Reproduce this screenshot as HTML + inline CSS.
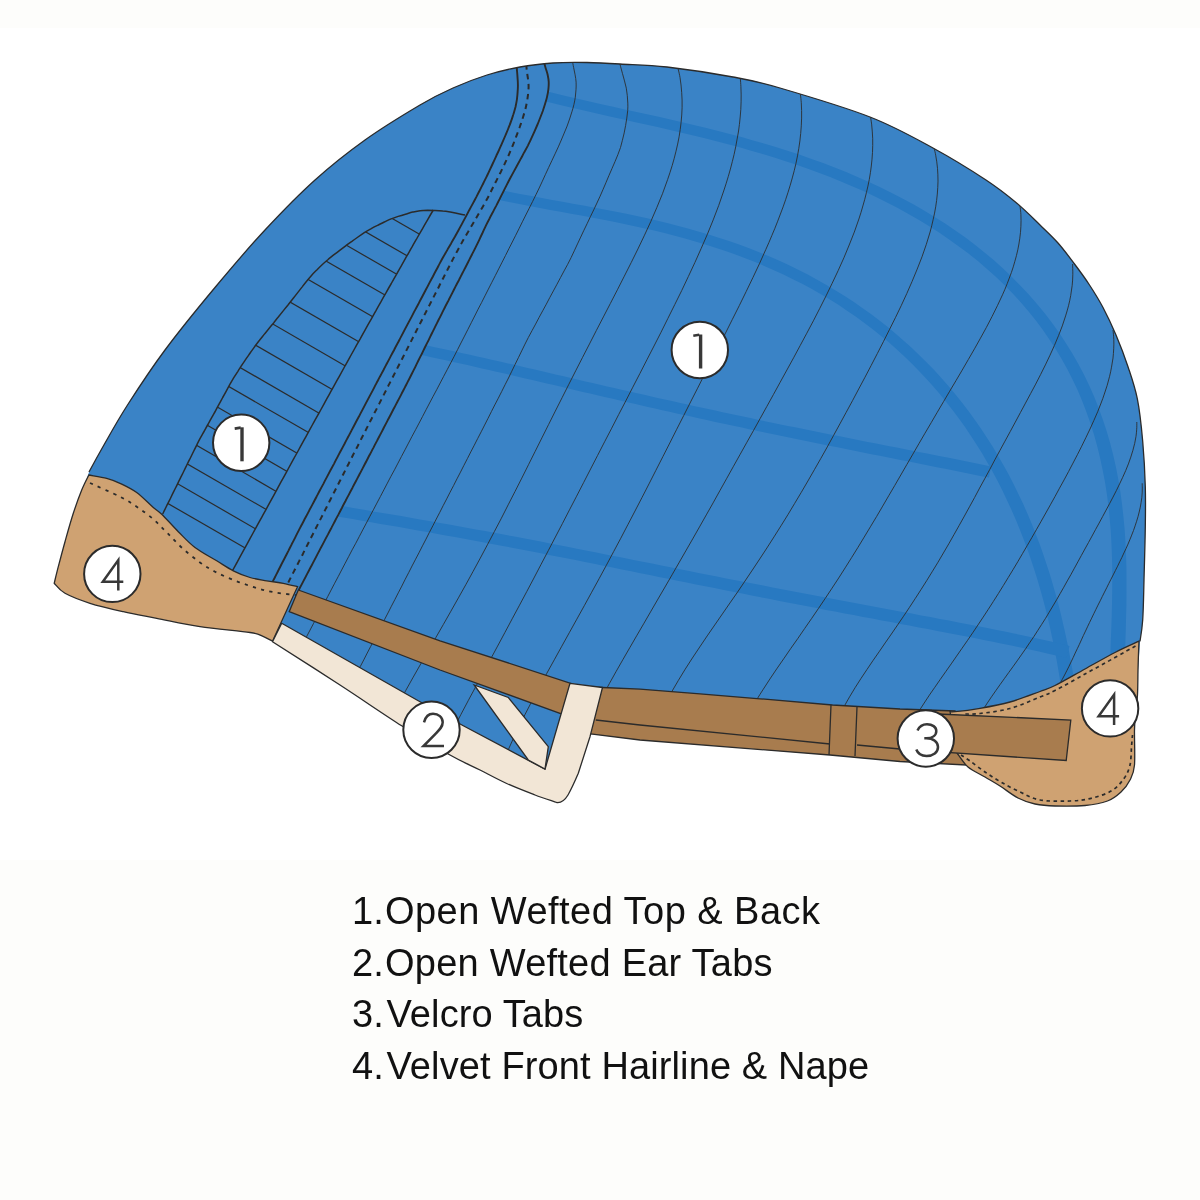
<!DOCTYPE html>
<html><head><meta charset="utf-8"><style>
html,body{margin:0;padding:0;background:#fdfdfb;}
#wrap{position:relative;width:1200px;height:1200px;overflow:hidden;background:#fdfdfb;}
.t{position:absolute;font-family:"Liberation Sans",sans-serif;font-size:38px;color:#111;white-space:nowrap;line-height:1;-webkit-font-smoothing:antialiased;transform:translateZ(0);}
</style></head><body><div id="wrap">
<svg width="1200" height="1200" viewBox="0 0 1200 1200" style="position:absolute;left:0;top:0">
<defs>
<clipPath id="capclip"><path d="M89.0,472.0 C91.2,467.9 96.1,458.7 102.5,447.5 C108.9,436.3 117.1,421.2 127.5,405.0 C137.9,388.8 150.4,369.6 165.0,350.0 C179.6,330.4 198.3,307.5 215.0,287.5 C231.7,267.5 248.3,247.9 265.0,230.0 C281.7,212.1 298.3,195.0 315.0,180.0 C331.7,165.0 347.5,152.5 365.0,140.0 C382.5,127.5 405.3,113.7 420.0,105.0 C434.7,96.3 441.8,93.0 453.0,88.0 C464.2,83.0 475.8,78.5 487.0,75.0 C498.2,71.5 509.0,69.0 520.0,67.0 C531.0,65.0 541.8,63.8 553.0,63.0 C564.2,62.2 575.8,62.3 587.0,62.5 C598.2,62.7 606.7,63.2 620.0,64.0 C633.3,64.8 648.2,64.8 667.0,67.0 C685.8,69.2 714.2,73.5 733.0,77.0 C751.8,80.5 757.2,81.3 780.0,88.0 C802.8,94.7 844.5,107.0 870.0,117.0 C895.5,127.0 913.7,137.5 933.0,148.0 C952.3,158.5 972.2,170.9 986.0,180.0 C999.8,189.1 1007.0,195.0 1016.0,202.5 C1025.0,210.0 1033.0,218.2 1040.0,225.0 C1047.0,231.8 1052.2,236.5 1058.0,243.0 C1063.8,249.5 1069.2,257.0 1074.5,264.0 C1079.8,271.0 1084.8,277.8 1089.5,285.0 C1094.2,292.2 1098.6,299.2 1103.0,307.5 C1107.4,315.8 1111.8,325.1 1116.0,335.0 C1120.2,344.9 1124.5,356.1 1128.0,366.7 C1131.5,377.3 1134.8,386.3 1137.3,398.7 C1139.8,411.1 1141.4,426.6 1142.7,441.3 C1144.0,456.0 1144.9,472.5 1145.3,486.7 C1145.7,500.9 1145.5,511.2 1145.3,526.7 C1145.1,542.2 1144.4,564.5 1144.0,580.0 C1143.6,595.5 1143.4,609.8 1142.7,620.0 C1142.0,630.2 1140.5,637.8 1140.0,641.3 L1136,700 L955,718 L860,714 L600,695 L588,730 L552,788 L455,742 L410,714 L276,633 L54,584 Z"/></clipPath>
<clipPath id="mainclip"><path d="M543.3,40 L543.5,60.0 C543.8,61.2 544.7,64.9 545.4,67.3 C546.1,69.7 547.0,72.0 547.6,74.5 C548.1,76.9 548.6,79.3 548.7,81.7 C548.8,84.2 548.7,86.7 548.4,89.2 C548.1,91.7 547.7,94.2 547.1,96.6 C546.6,99.0 545.8,101.4 545.1,103.8 C544.4,106.2 543.6,108.6 542.8,111.0 C541.9,113.4 541.0,115.7 540.1,118.0 C539.2,120.4 538.3,122.7 537.3,125.0 C536.3,127.3 535.3,129.6 534.3,131.9 C533.3,134.2 532.2,136.5 531.1,138.8 C530.1,141.1 529.0,143.3 527.9,145.6 C526.7,147.8 525.5,150.0 524.3,152.2 C523.2,154.4 521.9,156.6 520.7,158.9 C519.5,161.1 518.3,163.3 517.1,165.5 C515.9,167.7 514.7,169.9 513.5,172.1 C512.3,174.3 511.1,176.5 509.9,178.7 C508.8,180.9 507.6,183.2 506.5,185.4 C505.3,187.7 504.2,189.9 503.1,192.1 C501.9,194.4 500.8,196.6 499.7,198.9 C498.6,201.1 497.4,203.4 496.3,205.6 C495.1,207.8 493.9,210.0 492.8,212.3 C491.6,214.5 490.4,216.7 489.3,219.0 C488.1,221.2 487.0,223.4 485.9,225.7 C484.8,228.0 483.7,230.2 482.7,232.5 C481.6,234.8 480.5,237.1 479.5,239.3 C478.4,241.6 477.3,243.9 476.2,246.1 C475.1,248.4 474.0,250.6 472.8,252.9 C471.7,255.1 470.5,257.3 469.4,259.6 C468.3,261.8 467.1,264.0 466.0,266.3 C464.8,268.5 463.7,270.8 462.5,273.0 C461.4,275.2 460.2,277.5 459.1,279.7 C457.9,281.9 456.8,284.2 455.6,286.4 C454.5,288.6 453.3,290.9 452.2,293.1 C451.0,295.4 449.9,297.6 448.8,299.8 C447.6,302.1 446.5,304.3 445.3,306.5 C444.2,308.8 443.0,311.0 441.9,313.3 C440.8,315.5 439.7,317.7 438.5,320.0 C437.4,322.2 436.3,324.5 435.2,326.7 C434.1,329.0 432.9,331.2 431.8,333.5 C430.7,335.8 429.6,338.0 428.5,340.3 C427.4,342.5 426.2,344.8 425.1,347.0 C424.0,349.3 422.9,351.5 421.8,353.8 C420.7,356.0 419.5,358.3 418.4,360.5 C417.3,362.8 416.2,365.0 415.1,367.3 C414.0,369.5 412.8,371.8 411.7,374.0 C410.6,376.3 409.5,378.5 408.3,380.7 C407.2,383.0 406.0,385.2 404.9,387.4 C403.7,389.7 402.5,391.9 401.4,394.1 C400.2,396.4 399.1,398.6 397.9,400.8 C396.7,403.0 395.6,405.3 394.4,407.5 C393.2,409.7 392.1,411.9 390.9,414.2 C389.8,416.4 388.6,418.6 387.4,420.9 C386.3,423.1 385.1,425.3 383.9,427.5 C382.8,429.8 381.6,432.0 380.5,434.2 C379.3,436.5 378.1,438.7 377.0,440.9 C375.8,443.1 374.6,445.4 373.5,447.6 C372.3,449.8 371.2,452.0 370.0,454.3 C368.8,456.5 367.7,458.7 366.5,461.0 C365.3,463.2 364.2,465.4 363.0,467.6 C361.8,469.9 360.7,472.1 359.5,474.3 C358.3,476.5 357.2,478.8 356.0,481.0 C354.8,483.2 353.6,485.4 352.5,487.7 C351.3,489.9 350.1,492.1 349.0,494.3 C347.8,496.6 346.6,498.8 345.5,501.0 C344.3,503.2 343.1,505.5 342.0,507.7 C340.8,509.9 339.6,512.1 338.5,514.4 C337.3,516.6 336.1,518.8 335.0,521.0 C333.8,523.3 332.6,525.5 331.5,527.7 C330.3,529.9 329.1,532.2 328.0,534.4 C326.8,536.6 325.6,538.8 324.4,541.1 C323.3,543.3 322.1,545.5 320.9,547.7 C319.8,550.0 318.6,552.2 317.4,554.4 C316.3,556.6 315.1,558.9 313.9,561.1 C312.8,563.3 311.6,565.5 310.4,567.8 C309.3,570.0 308.1,572.2 306.9,574.4 C305.8,576.7 304.6,578.9 303.4,581.1 C302.3,583.3 300.7,586.3 299.9,587.8 C299.1,589.3 298.9,589.6 298.8,590.0 L272,640 L260,800 L1200,800 L1200,40 Z"/></clipPath>
<clipPath id="earclip"><path d="M465.0,215.0 C463.8,214.7 460.1,213.9 457.6,213.4 C455.1,212.9 452.7,212.4 450.2,212.0 C447.7,211.6 445.2,211.2 442.7,211.0 C440.2,210.7 437.7,210.5 435.2,210.4 C432.7,210.3 430.1,210.3 427.6,210.3 C425.1,210.4 422.6,210.5 420.1,210.8 C417.6,211.1 415.2,211.6 412.7,212.1 C410.3,212.7 407.9,213.5 405.5,214.2 C403.0,214.9 400.6,215.6 398.2,216.4 C395.8,217.2 393.4,218.0 391.1,218.9 C388.8,219.9 386.5,221.0 384.3,222.0 C382.0,223.1 379.7,224.3 377.5,225.4 C375.2,226.5 373.0,227.6 370.8,228.9 C368.6,230.1 366.4,231.3 364.3,232.7 C362.1,234.1 360.1,235.5 358.0,237.0 C356.0,238.4 353.9,239.9 351.9,241.4 C349.8,242.8 347.8,244.3 345.7,245.8 C343.7,247.3 341.7,248.8 339.7,250.3 C337.7,251.9 335.7,253.4 333.7,254.9 C331.7,256.5 329.7,258.0 327.8,259.7 C325.9,261.3 324.0,262.9 322.1,264.7 C320.3,266.4 318.5,268.2 316.8,270.0 C315.0,271.8 313.2,273.5 311.5,275.4 C309.8,277.3 308.2,279.2 306.6,281.2 C305.0,283.1 303.5,285.1 302.0,287.1 C300.4,289.1 298.9,291.1 297.3,293.1 C295.8,295.1 294.2,297.1 292.7,299.0 C291.1,301.0 289.5,303.0 288.0,305.0 C286.4,306.9 284.8,308.9 283.2,310.9 C281.7,312.8 280.1,314.8 278.5,316.8 C276.9,318.7 275.4,320.7 273.8,322.7 C272.2,324.6 270.6,326.6 269.0,328.5 C267.4,330.5 265.8,332.4 264.2,334.4 C262.6,336.4 261.0,338.3 259.5,340.3 C257.9,342.3 256.4,344.3 254.9,346.3 C253.5,348.4 252.0,350.4 250.5,352.5 C249.1,354.6 247.6,356.6 246.2,358.7 C244.8,360.8 243.3,362.8 242.0,364.9 C240.6,367.1 239.2,369.2 237.9,371.3 C236.5,373.4 235.1,375.6 233.8,377.7 C232.5,379.9 231.3,382.0 230.0,384.2 C228.8,386.4 227.6,388.6 226.4,390.9 C225.2,393.1 224.0,395.3 222.7,397.5 C221.5,399.7 220.3,401.9 219.1,404.1 C217.9,406.3 216.7,408.6 215.5,410.8 C214.3,413.0 213.0,415.2 211.8,417.4 C210.6,419.6 209.4,421.8 208.2,424.0 C206.9,426.2 205.7,428.4 204.5,430.6 C203.3,432.8 202.0,435.0 200.8,437.2 C199.6,439.4 198.4,441.7 197.3,443.9 C196.2,446.2 195.0,448.4 193.9,450.7 C192.8,452.9 191.7,455.2 190.6,457.5 C189.5,459.7 188.3,462.0 187.2,464.3 C186.1,466.5 185.0,468.8 183.9,471.0 C182.8,473.3 181.6,475.6 180.5,477.8 C179.4,480.1 178.3,482.3 177.2,484.6 C176.1,486.9 174.9,489.1 173.8,491.4 C172.7,493.6 171.6,495.9 170.5,498.2 C169.4,500.4 168.3,502.7 167.1,504.9 C166.0,507.2 164.6,510.2 163.8,511.7 C163.1,513.2 162.9,513.6 162.7,514.0 L232.5,570.7 L237.6,561.4 L242.6,552.1 L247.7,542.8 L252.8,533.5 L257.9,524.2 L263.0,514.9 L268.1,505.7 L273.2,496.4 L278.2,487.1 L283.3,477.8 L288.4,468.5 L293.5,459.2 L298.6,450.0 L303.7,440.7 L308.8,431.4 L313.9,422.1 L319.1,412.9 L324.2,403.6 L329.3,394.3 L334.4,385.1 L339.6,375.8 L344.7,366.5 L349.8,357.3 L355.0,348.0 L360.2,338.8 L365.3,329.6 L370.5,320.3 L375.7,311.1 L380.9,301.9 L386.1,292.7 L391.3,283.5 L396.5,274.3 L401.7,265.1 L406.9,255.9 L412.2,246.7 L417.4,237.5 L422.7,228.3 L428.0,219.1 L433.3,210.0Z"/></clipPath>
</defs>
<rect width="1200" height="1200" fill="#fdfdfb"/>
<rect y="28" width="1200" height="832" fill="#ffffff"/>
<path d="M89.0,472.0 C91.2,467.9 96.1,458.7 102.5,447.5 C108.9,436.3 117.1,421.2 127.5,405.0 C137.9,388.8 150.4,369.6 165.0,350.0 C179.6,330.4 198.3,307.5 215.0,287.5 C231.7,267.5 248.3,247.9 265.0,230.0 C281.7,212.1 298.3,195.0 315.0,180.0 C331.7,165.0 347.5,152.5 365.0,140.0 C382.5,127.5 405.3,113.7 420.0,105.0 C434.7,96.3 441.8,93.0 453.0,88.0 C464.2,83.0 475.8,78.5 487.0,75.0 C498.2,71.5 509.0,69.0 520.0,67.0 C531.0,65.0 541.8,63.8 553.0,63.0 C564.2,62.2 575.8,62.3 587.0,62.5 C598.2,62.7 606.7,63.2 620.0,64.0 C633.3,64.8 648.2,64.8 667.0,67.0 C685.8,69.2 714.2,73.5 733.0,77.0 C751.8,80.5 757.2,81.3 780.0,88.0 C802.8,94.7 844.5,107.0 870.0,117.0 C895.5,127.0 913.7,137.5 933.0,148.0 C952.3,158.5 972.2,170.9 986.0,180.0 C999.8,189.1 1007.0,195.0 1016.0,202.5 C1025.0,210.0 1033.0,218.2 1040.0,225.0 C1047.0,231.8 1052.2,236.5 1058.0,243.0 C1063.8,249.5 1069.2,257.0 1074.5,264.0 C1079.8,271.0 1084.8,277.8 1089.5,285.0 C1094.2,292.2 1098.6,299.2 1103.0,307.5 C1107.4,315.8 1111.8,325.1 1116.0,335.0 C1120.2,344.9 1124.5,356.1 1128.0,366.7 C1131.5,377.3 1134.8,386.3 1137.3,398.7 C1139.8,411.1 1141.4,426.6 1142.7,441.3 C1144.0,456.0 1144.9,472.5 1145.3,486.7 C1145.7,500.9 1145.5,511.2 1145.3,526.7 C1145.1,542.2 1144.4,564.5 1144.0,580.0 C1143.6,595.5 1143.4,609.8 1142.7,620.0 C1142.0,630.2 1140.5,637.8 1140.0,641.3 L1136,700 L955,718 L860,714 L600,695 L588,730 L552,788 L455,742 L410,714 L276,633 L54,584 Z" fill="#3a83c6"/>
<g clip-path="url(#capclip)"><g clip-path="url(#mainclip)" fill="#2879c1" stroke="none">
<path d="M538.8,99.8 L551.1,102.8 L563.3,105.8 L575.3,108.6 L587.2,111.3 L599.1,114.0 L610.9,116.7 L622.6,119.3 L634.3,121.9 L645.9,124.5 L657.5,127.1 L669.1,129.8 L680.7,132.5 L692.3,135.2 L703.9,138.1 L715.5,141.0 L727.1,144.0 L738.7,147.1 L750.3,150.4 L761.8,153.7 L773.4,157.3 L784.9,160.9 L796.5,164.8 L807.9,168.8 L819.4,173.0 L830.8,177.3 L842.1,181.9 L853.3,186.7 L864.5,191.6 L875.5,196.8 L886.5,202.2 L897.3,207.8 L908.0,213.7 L918.6,219.7 L928.9,226.0 L939.1,232.6 L949.1,239.4 L958.9,246.4 L968.5,253.6 L977.9,261.1 L987.0,268.9 L995.8,276.8 L1004.4,285.0 L1012.7,293.5 L1020.7,302.2 L1028.4,311.2 L1035.7,320.3 L1042.8,329.8 L1049.4,339.4 L1055.8,349.2 L1061.8,359.3 L1067.5,369.5 L1072.8,380.0 L1077.8,390.6 L1082.4,401.4 L1086.6,412.4 L1090.5,423.6 L1094.1,434.9 L1097.3,446.4 L1100.1,458.0 L1102.6,469.7 L1104.9,481.6 L1106.8,493.6 L1108.4,505.7 L1109.6,517.8 L1110.7,530.0 L1111.4,542.3 L1111.9,554.7 L1112.2,567.0 L1112.3,579.4 L1112.2,591.8 L1112.0,604.1 L1111.7,616.5 L1111.3,628.7 L1110.8,640.9 L1110.4,653.0 L1110.0,665.0 L1109.7,676.8 L1109.5,688.5 L1109.5,700.0 L1124.5,699.9 L1124.4,688.6 L1124.5,677.1 L1124.7,665.4 L1125.1,653.5 L1125.4,641.4 L1125.8,629.2 L1126.1,616.8 L1126.4,604.4 L1126.5,591.9 L1126.5,579.4 L1126.4,566.8 L1126.0,554.2 L1125.4,541.6 L1124.6,529.0 L1123.4,516.5 L1122.0,504.0 L1120.3,491.6 L1118.3,479.2 L1115.9,467.0 L1113.2,454.9 L1110.1,442.9 L1106.6,431.1 L1102.8,419.4 L1098.6,407.9 L1094.1,396.6 L1089.2,385.4 L1083.9,374.5 L1078.2,363.7 L1072.2,353.2 L1065.8,342.9 L1059.1,332.8 L1052.1,322.9 L1044.7,313.3 L1037.0,303.9 L1029.0,294.8 L1020.7,285.9 L1012.1,277.2 L1003.3,268.8 L994.2,260.6 L984.8,252.7 L975.2,245.0 L965.4,237.6 L955.3,230.5 L945.1,223.5 L934.6,216.9 L924.0,210.5 L913.3,204.3 L902.4,198.4 L891.3,192.7 L880.2,187.2 L868.9,181.9 L857.5,176.9 L846.1,172.1 L834.6,167.5 L823.1,163.1 L811.5,158.9 L799.8,154.8 L788.2,151.0 L776.5,147.3 L764.8,143.7 L753.1,140.4 L741.4,137.1 L729.7,134.0 L718.1,131.0 L706.4,128.0 L694.7,125.2 L683.1,122.5 L671.4,119.8 L659.8,117.1 L648.1,114.5 L636.5,111.9 L624.8,109.4 L613.1,106.8 L601.3,104.2 L589.5,101.5 L577.6,98.8 L565.6,96.0 L553.5,93.1 L541.2,90.1Z"/>
<path d="M499.0,199.9 L509.1,202.0 L519.4,204.1 L529.6,206.0 L539.9,208.0 L550.3,209.9 L560.6,211.8 L571.0,213.7 L581.4,215.6 L591.8,217.5 L602.2,219.5 L612.6,221.6 L623.1,223.7 L633.5,225.9 L643.8,228.2 L654.2,230.6 L664.5,233.1 L674.8,235.7 L685.1,238.5 L695.3,241.4 L705.4,244.5 L715.5,247.7 L725.5,251.0 L735.5,254.6 L745.3,258.2 L755.1,262.1 L764.8,266.2 L774.5,270.4 L784.0,274.8 L793.4,279.4 L802.7,284.1 L811.9,289.1 L821.0,294.3 L829.9,299.6 L838.8,305.1 L847.4,310.9 L856.0,316.8 L864.4,322.9 L872.7,329.2 L880.8,335.7 L888.8,342.3 L896.6,349.2 L904.2,356.3 L911.7,363.5 L919.0,370.9 L926.1,378.5 L933.1,386.2 L939.8,394.1 L946.4,402.2 L952.9,410.4 L959.1,418.8 L965.2,427.3 L971.0,435.9 L976.7,444.7 L982.2,453.6 L987.5,462.7 L992.7,471.8 L997.6,481.1 L1002.4,490.5 L1006.9,499.9 L1011.3,509.5 L1015.5,519.1 L1019.6,528.9 L1023.4,538.7 L1027.1,548.6 L1030.6,558.5 L1033.9,568.5 L1037.1,578.6 L1040.1,588.7 L1042.9,598.8 L1045.6,609.0 L1048.1,619.2 L1050.4,629.4 L1052.6,639.6 L1054.7,649.8 L1056.6,660.1 L1058.4,670.3 L1060.1,680.5 L1061.7,690.8 L1063.1,701.0 L1077.0,699.0 L1075.5,688.7 L1073.8,678.3 L1072.1,668.0 L1070.2,657.6 L1068.2,647.2 L1066.0,636.8 L1063.7,626.4 L1061.3,616.0 L1058.7,605.6 L1055.9,595.2 L1053.0,584.9 L1049.9,574.6 L1046.6,564.4 L1043.2,554.2 L1039.6,544.0 L1035.7,533.9 L1031.8,523.9 L1027.6,514.0 L1023.2,504.1 L1018.6,494.4 L1013.9,484.7 L1008.9,475.1 L1003.8,465.7 L998.4,456.4 L992.9,447.1 L987.1,438.1 L981.2,429.1 L975.1,420.3 L968.8,411.6 L962.3,403.1 L955.7,394.7 L948.8,386.5 L941.8,378.5 L934.6,370.6 L927.2,362.9 L919.6,355.4 L911.9,348.1 L904.0,340.9 L896.0,333.9 L887.8,327.1 L879.4,320.5 L870.9,314.1 L862.3,307.9 L853.5,301.8 L844.6,296.0 L835.6,290.4 L826.4,284.9 L817.1,279.7 L807.7,274.6 L798.2,269.8 L788.6,265.1 L778.8,260.6 L769.0,256.3 L759.1,252.3 L749.1,248.3 L739.1,244.6 L728.9,241.0 L718.7,237.7 L708.5,234.4 L698.2,231.4 L687.8,228.4 L677.4,225.7 L667.0,223.0 L656.6,220.5 L646.1,218.1 L635.6,215.8 L625.1,213.6 L614.7,211.5 L604.2,209.5 L593.7,207.5 L583.3,205.6 L572.8,203.7 L562.4,201.8 L552.1,199.9 L541.8,198.1 L531.5,196.1 L521.3,194.2 L511.1,192.2 L501.0,190.1Z"/>
<path d="M416.9,354.1 L424.2,355.6 L431.4,357.2 L438.6,358.7 L445.8,360.3 L453.1,361.9 L460.3,363.5 L467.5,365.1 L474.7,366.7 L481.9,368.4 L489.1,370.0 L496.4,371.7 L503.6,373.3 L510.8,375.0 L518.0,376.7 L525.2,378.4 L532.4,380.0 L539.6,381.7 L546.8,383.4 L554.0,385.1 L561.3,386.8 L568.5,388.5 L575.7,390.2 L582.9,391.9 L590.1,393.6 L597.3,395.2 L604.6,396.9 L611.8,398.6 L619.0,400.3 L626.2,401.9 L633.4,403.6 L640.7,405.2 L647.9,406.9 L655.1,408.5 L662.3,410.2 L669.6,411.8 L676.8,413.4 L684.0,415.0 L691.3,416.6 L698.5,418.2 L705.8,419.8 L713.0,421.4 L720.2,423.0 L727.5,424.5 L734.7,426.1 L742.0,427.6 L749.2,429.2 L756.5,430.7 L763.7,432.2 L771.0,433.8 L778.3,435.3 L785.5,436.8 L792.8,438.3 L800.0,439.8 L807.3,441.3 L814.6,442.7 L821.8,444.2 L829.1,445.7 L836.3,447.1 L843.6,448.6 L850.9,450.1 L858.1,451.5 L865.4,453.0 L872.7,454.4 L879.9,455.8 L887.2,457.3 L894.5,458.7 L901.7,460.2 L909.0,461.6 L916.3,463.1 L923.5,464.5 L930.8,465.9 L938.1,467.4 L945.3,468.8 L952.6,470.3 L959.8,471.7 L967.1,473.2 L974.3,474.7 L981.6,476.2 L988.9,477.6 L991.1,466.4 L983.9,464.9 L976.6,463.4 L969.4,462.0 L962.1,460.5 L954.8,459.1 L947.5,457.6 L940.3,456.2 L933.0,454.8 L925.7,453.3 L918.5,451.9 L911.2,450.5 L903.9,449.0 L896.7,447.6 L889.4,446.2 L882.1,444.8 L874.9,443.3 L867.6,441.9 L860.3,440.4 L853.1,439.0 L845.8,437.6 L838.6,436.1 L831.3,434.7 L824.0,433.2 L816.8,431.8 L809.5,430.3 L802.3,428.8 L795.0,427.3 L787.8,425.9 L780.5,424.4 L773.3,422.9 L766.0,421.4 L758.8,419.9 L751.5,418.3 L744.3,416.8 L737.0,415.3 L729.8,413.7 L722.6,412.2 L715.3,410.6 L708.1,409.1 L700.9,407.5 L693.6,405.9 L686.4,404.3 L679.2,402.7 L672.0,401.1 L664.7,399.5 L657.5,397.9 L650.3,396.3 L643.1,394.6 L635.9,393.0 L628.6,391.3 L621.4,389.7 L614.2,388.0 L607.0,386.4 L599.8,384.7 L592.6,383.0 L585.3,381.4 L578.1,379.7 L570.9,378.0 L563.7,376.3 L556.5,374.7 L549.3,373.0 L542.1,371.3 L534.8,369.6 L527.6,368.0 L520.4,366.3 L513.2,364.6 L506.0,363.0 L498.7,361.3 L491.5,359.7 L484.3,358.0 L477.1,356.4 L469.8,354.8 L462.6,353.2 L455.3,351.6 L448.1,350.0 L440.8,348.4 L433.6,346.9 L426.3,345.3 L419.1,343.8Z"/>
<path d="M334.1,515.9 L343.4,517.5 L352.7,519.1 L362.0,520.7 L371.3,522.3 L380.6,523.9 L390.0,525.5 L399.3,527.1 L408.6,528.7 L417.9,530.4 L427.2,532.0 L436.5,533.7 L445.7,535.4 L455.0,537.1 L464.3,538.8 L473.6,540.5 L482.9,542.2 L492.2,543.9 L501.5,545.7 L510.7,547.5 L520.0,549.2 L529.3,551.0 L538.6,552.8 L547.8,554.7 L557.1,556.5 L566.4,558.3 L575.6,560.1 L584.9,562.0 L594.1,563.8 L603.4,565.7 L612.7,567.6 L621.9,569.4 L631.2,571.3 L640.5,573.2 L649.7,575.0 L659.0,576.9 L668.2,578.8 L677.5,580.7 L686.8,582.5 L696.0,584.4 L705.3,586.2 L714.6,588.1 L723.8,590.0 L733.1,591.8 L742.4,593.6 L751.7,595.5 L760.9,597.3 L770.2,599.1 L779.5,600.9 L788.8,602.7 L798.1,604.5 L807.4,606.3 L816.6,608.1 L825.9,609.9 L835.2,611.6 L844.5,613.4 L853.8,615.1 L863.1,616.9 L872.4,618.6 L881.7,620.4 L891.0,622.1 L900.3,623.9 L909.5,625.6 L918.8,627.4 L928.1,629.1 L937.4,630.9 L946.7,632.7 L955.9,634.4 L965.2,636.2 L974.5,638.1 L983.7,639.9 L993.0,641.8 L1002.2,643.7 L1011.4,645.6 L1020.6,647.5 L1029.8,649.5 L1039.0,651.6 L1048.2,653.7 L1057.4,655.8 L1066.5,658.1 L1069.5,645.9 L1060.3,643.7 L1051.0,641.6 L1041.8,639.5 L1032.5,637.4 L1023.2,635.4 L1014.0,633.5 L1004.7,631.5 L995.4,629.7 L986.1,627.8 L976.8,626.0 L967.6,624.2 L958.3,622.4 L949.0,620.6 L939.7,618.9 L930.4,617.1 L921.1,615.4 L911.8,613.6 L902.5,611.9 L893.2,610.2 L883.9,608.5 L874.6,606.7 L865.3,605.0 L856.0,603.3 L846.7,601.6 L837.4,599.8 L828.2,598.1 L818.9,596.3 L809.6,594.6 L800.3,592.8 L791.0,591.0 L781.8,589.2 L772.5,587.4 L763.2,585.6 L753.9,583.8 L744.7,582.0 L735.4,580.2 L726.1,578.4 L716.9,576.5 L707.6,574.7 L698.3,572.9 L689.1,571.0 L679.8,569.2 L670.5,567.3 L661.3,565.5 L652.0,563.6 L642.7,561.8 L633.5,559.9 L624.2,558.1 L614.9,556.2 L605.7,554.4 L596.4,552.5 L587.1,550.7 L577.9,548.9 L568.6,547.0 L559.3,545.2 L550.0,543.4 L540.7,541.6 L531.4,539.8 L522.2,538.1 L512.9,536.3 L503.6,534.6 L494.3,532.8 L485.0,531.1 L475.7,529.4 L466.4,527.7 L457.1,526.0 L447.7,524.3 L438.4,522.7 L429.1,521.0 L419.8,519.4 L410.5,517.7 L401.2,516.1 L391.8,514.5 L382.5,512.9 L373.2,511.4 L363.9,509.8 L354.6,508.2 L345.2,506.6 L335.9,505.1Z"/>
</g></g>
<g clip-path="url(#capclip)"><g clip-path="url(#mainclip)" fill="none" stroke="#2b2b2b" stroke-width="0.95" stroke-opacity="0.92">
<path d="M572.3,60.0 C572.5,61.2 573.1,65.0 573.6,67.4 C574.1,69.9 574.7,72.3 575.1,74.8 C575.5,77.3 576.0,79.7 576.1,82.2 C576.3,84.7 576.1,87.2 576.0,89.7 C575.8,92.2 575.6,94.7 575.3,97.2 C574.9,99.7 574.5,102.1 573.9,104.6 C573.4,107.0 572.6,109.4 571.9,111.8 C571.1,114.2 570.4,116.6 569.6,119.0 C568.8,121.4 568.0,123.7 567.1,126.1 C566.2,128.4 565.2,130.8 564.2,133.1 C563.3,135.4 562.3,137.7 561.3,140.0 C560.3,142.3 559.3,144.6 558.3,146.9 C557.2,149.2 556.2,151.5 555.1,153.8 C554.0,156.1 553.0,158.3 551.9,160.6 C550.8,162.9 549.8,165.2 548.7,167.4 C547.6,169.7 546.6,172.0 545.5,174.3 C544.5,176.6 543.4,178.8 542.4,181.1 C541.3,183.4 540.2,185.7 539.2,188.0 C538.1,190.2 537.0,192.5 535.9,194.8 C534.8,197.0 533.7,199.3 532.6,201.5 C531.4,203.8 530.3,206.0 529.2,208.3 C528.1,210.5 526.9,212.8 525.8,215.0 C524.7,217.3 523.6,219.5 522.4,221.8 C521.3,224.0 520.2,226.3 519.1,228.5 C517.9,230.8 516.8,233.0 515.7,235.3 C514.6,237.5 513.5,239.8 512.3,242.0 C511.2,244.3 510.1,246.5 508.9,248.7 C507.8,251.0 506.7,253.2 505.5,255.5 C504.4,257.7 503.2,260.0 502.1,262.2 C501.0,264.4 499.8,266.7 498.7,268.9 C497.5,271.2 496.4,273.4 495.3,275.6 C494.1,277.9 493.0,280.1 491.8,282.4 C490.7,284.6 489.6,286.8 488.4,289.1 C487.3,291.3 486.1,293.6 485.0,295.8 C483.9,298.0 482.7,300.3 481.6,302.5 C480.4,304.8 479.3,307.0 478.1,309.2 C477.0,311.5 475.9,313.7 474.7,316.0 C473.6,318.2 472.4,320.5 471.3,322.7 C470.2,324.9 469.0,327.2 467.9,329.4 C466.7,331.7 465.6,333.9 464.5,336.1 C463.3,338.4 462.2,340.6 461.0,342.9 C459.9,345.1 458.7,347.3 457.6,349.6 C456.5,351.8 455.3,354.1 454.2,356.3 C453.0,358.5 451.9,360.8 450.7,363.0 C449.5,365.2 448.4,367.4 447.2,369.7 C446.0,371.9 444.9,374.1 443.7,376.3 C442.5,378.6 441.3,380.8 440.2,383.0 C439.0,385.2 437.8,387.5 436.7,389.7 C435.5,391.9 434.3,394.1 433.1,396.4 C432.0,398.6 430.8,400.8 429.6,403.0 C428.4,405.3 427.3,407.5 426.1,409.7 C424.9,411.9 423.8,414.2 422.6,416.4 C421.4,418.6 420.2,420.8 419.1,423.1 C417.9,425.3 416.7,427.5 415.6,429.7 C414.4,432.0 413.2,434.2 412.0,436.4 C410.9,438.6 409.7,440.9 408.5,443.1 C407.3,445.3 406.2,447.5 405.0,449.8 C403.8,452.0 402.7,454.2 401.5,456.4 C400.3,458.6 399.1,460.9 398.0,463.1 C396.8,465.3 395.6,467.5 394.5,469.8 C393.3,472.0 392.1,474.2 390.9,476.4 C389.8,478.7 388.6,480.9 387.4,483.1 C386.2,485.3 385.1,487.6 383.9,489.8 C382.7,492.0 381.6,494.2 380.4,496.5 C379.2,498.7 378.0,500.9 376.9,503.1 C375.7,505.4 374.5,507.6 373.4,509.8 C372.2,512.0 371.0,514.3 369.8,516.5 C368.7,518.7 367.5,520.9 366.3,523.2 C365.1,525.4 364.0,527.6 362.8,529.8 C361.6,532.1 360.5,534.3 359.3,536.5 C358.1,538.7 356.9,541.0 355.8,543.2 C354.6,545.4 353.4,547.6 352.2,549.8 C351.1,552.1 349.9,554.3 348.7,556.5 C347.6,558.7 346.4,561.0 345.2,563.2 C344.1,565.4 342.9,567.6 341.7,569.9 C340.5,572.1 339.4,574.3 338.2,576.6 C337.0,578.8 335.9,581.0 334.7,583.2 C333.5,585.5 332.4,587.7 331.2,589.9 C330.0,592.1 328.8,594.4 327.7,596.6 C326.5,598.8 325.3,601.0 324.2,603.3 C323.0,605.5 321.8,607.7 320.7,609.9 C319.5,612.2 318.3,614.4 317.1,616.6 C316.0,618.8 314.8,621.1 313.6,623.3 C312.5,625.5 311.3,627.7 310.1,630.0 C309.0,632.2 307.8,634.4 306.6,636.6 C305.4,638.9 304.3,641.1 303.1,643.3 C301.9,645.5 300.2,648.9 299.6,650.0"/>
<path d="M618.8,59.0 C619.1,60.2 619.9,63.9 620.5,66.3 C621.1,68.8 621.8,71.2 622.5,73.6 C623.2,76.0 623.9,78.4 624.5,80.9 C625.2,83.3 625.8,85.7 626.3,88.2 C626.7,90.6 627.0,93.1 627.3,95.6 C627.5,98.1 627.7,100.6 627.8,103.1 C627.9,105.6 627.9,108.1 627.7,110.6 C627.5,113.1 627.1,115.6 626.8,118.1 C626.5,120.6 626.1,123.1 625.6,125.5 C625.2,128.0 624.7,130.5 624.2,132.9 C623.7,135.4 623.0,137.8 622.4,140.3 C621.8,142.7 621.2,145.1 620.5,147.5 C619.7,149.9 618.8,152.3 617.9,154.6 C617.0,157.0 616.0,159.2 615.0,161.6 C614.0,163.9 613.0,166.2 612.0,168.5 C611.0,170.8 610.0,173.1 609.0,175.4 C608.0,177.7 607.0,180.0 606.1,182.3 C605.1,184.7 604.1,187.0 603.1,189.3 C602.1,191.6 601.1,193.9 600.1,196.2 C599.1,198.5 598.0,200.8 596.9,203.1 C595.9,205.3 594.8,207.6 593.7,209.9 C592.6,212.1 591.5,214.4 590.4,216.7 C589.3,218.9 588.3,221.2 587.2,223.5 C586.1,225.7 585.0,228.0 583.9,230.3 C582.9,232.6 581.8,234.8 580.7,237.1 C579.7,239.4 578.6,241.7 577.5,243.9 C576.5,246.2 575.4,248.5 574.3,250.8 C573.3,253.0 572.2,255.3 571.1,257.6 C570.0,259.8 568.8,262.1 567.7,264.3 C566.5,266.5 565.3,268.7 564.1,270.9 C562.9,273.2 561.7,275.4 560.5,277.6 C559.4,279.8 558.2,282.0 557.0,284.2 C555.8,286.4 554.6,288.7 553.4,290.9 C552.2,293.1 551.0,295.3 549.8,297.5 C548.6,299.7 547.5,301.9 546.3,304.2 C545.1,306.4 543.9,308.6 542.7,310.8 C541.5,313.0 540.3,315.2 539.1,317.4 C537.9,319.7 536.7,321.9 535.6,324.1 C534.4,326.3 533.2,328.5 532.0,330.7 C530.8,333.0 529.6,335.2 528.4,337.4 C527.3,339.6 526.1,341.9 525.0,344.1 C523.9,346.4 522.8,348.6 521.7,350.9 C520.6,353.1 519.5,355.4 518.4,357.7 C517.3,359.9 516.2,362.2 515.1,364.4 C514.0,366.7 512.9,369.0 511.8,371.2 C510.7,373.5 509.6,375.7 508.5,378.0 C507.3,380.2 506.2,382.5 505.1,384.7 C504.0,387.0 502.8,389.2 501.7,391.5 C500.5,393.7 499.4,395.9 498.3,398.2 C497.1,400.4 496.0,402.7 494.8,404.9 C493.7,407.2 492.6,409.4 491.4,411.6 C490.3,413.9 489.1,416.1 488.0,418.4 C486.9,420.6 485.7,422.8 484.6,425.1 C483.4,427.3 482.3,429.6 481.2,431.8 C480.0,434.0 478.9,436.3 477.7,438.5 C476.6,440.8 475.4,443.0 474.3,445.2 C473.2,447.5 472.0,449.7 470.8,451.9 C469.7,454.2 468.5,456.4 467.4,458.6 C466.2,460.9 465.1,463.1 463.9,465.4 C462.8,467.6 461.6,469.8 460.5,472.1 C459.3,474.3 458.2,476.5 457.0,478.8 C455.9,481.0 454.7,483.2 453.6,485.5 C452.4,487.7 451.3,489.9 450.1,492.2 C449.0,494.4 447.8,496.6 446.7,498.9 C445.5,501.1 444.4,503.4 443.2,505.6 C442.1,507.8 440.9,510.1 439.8,512.3 C438.6,514.5 437.5,516.8 436.3,519.0 C435.2,521.2 434.0,523.5 432.9,525.7 C431.7,527.9 430.6,530.2 429.4,532.4 C428.3,534.6 427.1,536.9 426.0,539.1 C424.8,541.3 423.7,543.6 422.5,545.8 C421.4,548.1 420.2,550.3 419.1,552.5 C417.9,554.8 416.7,557.0 415.6,559.2 C414.4,561.5 413.3,563.7 412.1,565.9 C411.0,568.2 409.8,570.4 408.7,572.6 C407.5,574.9 406.4,577.1 405.2,579.3 C404.1,581.6 402.9,583.8 401.8,586.1 C400.6,588.3 399.5,590.5 398.3,592.8 C397.2,595.0 396.0,597.2 394.9,599.5 C393.7,601.7 392.6,603.9 391.4,606.2 C390.3,608.4 389.1,610.6 388.0,612.9 C386.8,615.1 385.7,617.3 384.5,619.6 C383.4,621.8 382.2,624.0 381.1,626.3 C379.9,628.5 378.8,630.8 377.6,633.0 C376.5,635.2 375.3,637.5 374.2,639.7 C373.0,641.9 371.8,644.2 370.7,646.4 C369.5,648.6 368.4,650.9 367.2,653.1 C366.1,655.3 364.9,657.6 363.8,659.8 C362.6,662.0 361.5,664.3 360.3,666.5 C359.2,668.7 358.0,671.0 356.8,673.2 C355.7,675.4 354.5,677.7 353.4,679.9 C352.2,682.1 351.1,684.4 349.9,686.6 C348.8,688.8 347.6,691.1 346.5,693.3 C345.3,695.5 343.6,698.9 343.0,700.0"/>
<path d="M676.5,62.0 C677.1,64.6 679.1,72.3 680.0,77.4 C680.8,82.5 681.4,87.6 681.7,92.6 C682.1,97.6 682.2,102.6 682.1,107.5 C682.0,112.5 681.6,117.4 681.1,122.3 C680.6,127.1 679.9,132.0 679.1,136.8 C678.2,141.7 677.2,146.5 676.0,151.2 C674.9,156.0 673.6,160.8 672.2,165.5 C670.8,170.2 669.2,174.9 667.6,179.6 C666.0,184.3 664.3,189.0 662.5,193.7 C660.7,198.3 658.8,203.0 656.8,207.6 C654.9,212.2 652.9,216.8 650.8,221.5 C648.8,226.1 646.7,230.7 644.5,235.2 C642.4,239.8 640.2,244.4 637.9,249.0 C635.7,253.5 633.5,258.1 631.2,262.6 C628.9,267.2 626.6,271.7 624.3,276.2 C622.0,280.8 619.7,285.3 617.4,289.8 C615.1,294.3 612.7,298.9 610.4,303.4 C608.1,307.9 605.8,312.4 603.4,316.9 C601.1,321.4 598.8,325.9 596.4,330.4 C594.1,334.9 591.8,339.4 589.5,343.9 C587.2,348.4 584.9,352.9 582.6,357.3 C580.3,361.8 578.0,366.3 575.7,370.8 C573.4,375.3 571.1,379.8 568.9,384.2 C566.6,388.7 564.3,393.2 562.1,397.7 C559.8,402.2 557.6,406.6 555.3,411.1 C553.1,415.6 550.9,420.0 548.6,424.5 C546.4,429.0 544.1,433.5 541.9,437.9 C539.7,442.4 537.5,446.9 535.2,451.3 C533.0,455.8 530.8,460.3 528.5,464.7 C526.3,469.2 524.1,473.6 521.8,478.1 C519.6,482.6 517.3,487.0 515.0,491.5 C512.8,495.9 510.5,500.4 508.2,504.8 C506.0,509.3 503.7,513.7 501.4,518.2 C499.1,522.6 496.8,527.1 494.4,531.5 C492.1,535.9 489.8,540.4 487.4,544.8 C485.0,549.2 482.7,553.7 480.3,558.1 C477.9,562.5 475.5,567.0 473.1,571.4 C470.7,575.8 468.2,580.2 465.8,584.7 C463.3,589.1 460.9,593.5 458.4,597.9 C455.9,602.3 453.4,606.7 450.9,611.2 C448.4,615.6 445.9,620.0 443.4,624.4 C440.9,628.8 438.4,633.2 435.8,637.6 C433.3,642.0 430.8,646.4 428.3,650.8 C425.7,655.2 423.2,659.6 420.7,664.0 C418.2,668.4 415.7,672.8 413.2,677.2 C410.7,681.6 408.3,686.0 405.8,690.4 C403.4,694.8 401.0,699.2 398.6,703.6 C396.3,708.0 393.9,712.4 391.7,716.8 C389.4,721.2 386.1,727.8 385.0,730.0"/>
<path d="M739.5,71.0 C739.8,73.6 740.7,81.3 740.9,86.5 C741.2,91.6 741.2,96.7 741.1,101.8 C741.0,106.9 740.7,111.9 740.2,117.0 C739.8,122.0 739.1,127.0 738.4,132.0 C737.6,137.0 736.7,142.0 735.7,146.9 C734.7,151.9 733.6,156.8 732.3,161.7 C731.1,166.7 729.7,171.5 728.3,176.4 C726.9,181.3 725.3,186.2 723.7,191.0 C722.1,195.9 720.4,200.7 718.7,205.5 C716.9,210.3 715.1,215.1 713.2,219.9 C711.3,224.7 709.3,229.4 707.4,234.2 C705.4,238.9 703.3,243.7 701.2,248.4 C699.2,253.1 697.0,257.8 694.9,262.5 C692.7,267.2 690.6,271.9 688.3,276.6 C686.1,281.3 683.9,285.9 681.7,290.6 C679.4,295.2 677.1,299.9 674.8,304.5 C672.6,309.2 670.2,313.8 667.9,318.4 C665.6,323.0 663.3,327.6 661.0,332.3 C658.6,336.9 656.3,341.5 654.0,346.0 C651.6,350.6 649.3,355.2 646.9,359.8 C644.6,364.4 642.2,369.0 639.9,373.5 C637.5,378.1 635.2,382.7 632.8,387.2 C630.5,391.8 628.1,396.3 625.8,400.9 C623.4,405.4 621.1,410.0 618.7,414.5 C616.4,419.1 614.0,423.6 611.7,428.2 C609.3,432.7 607.0,437.2 604.6,441.8 C602.3,446.3 600.0,450.9 597.6,455.4 C595.3,459.9 592.9,464.5 590.6,469.0 C588.3,473.5 585.9,478.1 583.6,482.6 C581.2,487.1 578.9,491.7 576.6,496.2 C574.2,500.7 571.9,505.3 569.5,509.8 C567.2,514.3 564.8,518.9 562.5,523.4 C560.1,527.9 557.7,532.5 555.4,537.0 C553.0,541.6 550.7,546.1 548.3,550.6 C545.9,555.2 543.5,559.7 541.1,564.3 C538.8,568.8 536.4,573.3 534.0,577.9 C531.6,582.4 529.2,587.0 526.8,591.5 C524.3,596.1 521.9,600.6 519.5,605.2 C517.1,609.7 514.7,614.3 512.2,618.8 C509.8,623.4 507.3,627.9 504.9,632.5 C502.5,637.0 500.0,641.6 497.6,646.1 C495.1,650.7 492.7,655.2 490.2,659.8 C487.8,664.3 485.3,668.9 482.9,673.4 C480.4,678.0 478.0,682.5 475.5,687.1 C473.1,691.6 470.7,696.1 468.2,700.7 C465.8,705.2 463.4,709.8 461.0,714.3 C458.6,718.8 456.2,723.4 453.9,727.9 C451.5,732.4 449.2,736.9 446.9,741.5 C444.5,746.0 441.2,752.7 440.0,755.0"/>
<path d="M799.5,87.0 C799.8,89.6 800.9,97.5 801.3,102.7 C801.6,107.9 801.7,113.0 801.6,118.1 C801.5,123.3 801.2,128.3 800.7,133.4 C800.3,138.4 799.6,143.4 798.8,148.4 C798.0,153.4 797.1,158.3 796.0,163.2 C794.9,168.1 793.7,173.0 792.3,177.9 C791.0,182.8 789.5,187.6 788.0,192.4 C786.5,197.3 784.8,202.1 783.1,206.9 C781.4,211.6 779.6,216.4 777.7,221.2 C775.9,225.9 773.9,230.7 771.9,235.4 C770.0,240.1 767.9,244.8 765.8,249.5 C763.8,254.2 761.6,258.9 759.5,263.6 C757.3,268.2 755.1,272.9 752.9,277.6 C750.7,282.2 748.4,286.9 746.2,291.5 C743.9,296.2 741.6,300.8 739.4,305.4 C737.1,310.0 734.8,314.7 732.4,319.3 C730.1,323.9 727.8,328.5 725.5,333.1 C723.2,337.7 720.8,342.3 718.5,346.9 C716.2,351.5 713.8,356.1 711.5,360.7 C709.2,365.3 706.9,369.9 704.5,374.5 C702.2,379.0 699.9,383.6 697.6,388.2 C695.2,392.8 692.9,397.3 690.6,401.9 C688.3,406.5 686.0,411.1 683.7,415.6 C681.3,420.2 679.0,424.7 676.7,429.3 C674.4,433.9 672.1,438.4 669.8,443.0 C667.5,447.5 665.2,452.1 662.9,456.6 C660.5,461.2 658.2,465.7 655.9,470.3 C653.6,474.8 651.3,479.3 649.0,483.9 C646.6,488.4 644.3,492.9 642.0,497.5 C639.7,502.0 637.3,506.5 635.0,511.0 C632.6,515.6 630.3,520.1 627.9,524.6 C625.5,529.1 623.2,533.7 620.8,538.2 C618.4,542.7 616.0,547.2 613.6,551.7 C611.2,556.2 608.8,560.7 606.4,565.2 C604.0,569.7 601.5,574.2 599.1,578.7 C596.6,583.2 594.2,587.7 591.7,592.2 C589.2,596.7 586.8,601.2 584.3,605.7 C581.8,610.2 579.3,614.7 576.8,619.2 C574.3,623.7 571.8,628.2 569.3,632.7 C566.8,637.2 564.3,641.7 561.8,646.2 C559.3,650.7 556.8,655.2 554.3,659.8 C551.8,664.3 549.3,668.8 546.8,673.3 C544.4,677.8 541.9,682.4 539.5,686.9 C537.0,691.5 534.6,696.0 532.2,700.6 C529.8,705.1 527.5,709.7 525.1,714.3 C522.8,718.8 520.5,723.4 518.3,728.0 C516.1,732.6 513.9,737.3 511.8,741.9 C509.7,746.5 507.6,751.2 505.7,755.9 C503.7,760.6 501.0,767.6 500.0,770.0"/>
<path d="M869.5,111.0 C869.9,113.3 871.2,120.3 871.7,124.9 C872.2,129.6 872.5,134.2 872.7,138.7 C872.8,143.3 872.7,147.9 872.5,152.4 C872.3,156.9 871.8,161.5 871.3,166.0 C870.8,170.5 870.1,174.9 869.3,179.4 C868.4,183.9 867.5,188.3 866.4,192.7 C865.4,197.1 864.2,201.5 862.9,205.9 C861.7,210.3 860.3,214.7 858.9,219.0 C857.4,223.4 855.9,227.7 854.3,232.1 C852.7,236.4 851.0,240.7 849.2,245.0 C847.5,249.3 845.7,253.5 843.9,257.8 C842.0,262.1 840.1,266.3 838.2,270.5 C836.2,274.8 834.3,279.0 832.2,283.2 C830.2,287.4 828.2,291.6 826.1,295.8 C824.0,300.0 821.9,304.2 819.8,308.3 C817.7,312.5 815.5,316.6 813.4,320.8 C811.2,324.9 809.0,329.0 806.8,333.2 C804.6,337.3 802.4,341.4 800.2,345.5 C798.0,349.6 795.8,353.7 793.6,357.8 C791.4,361.9 789.1,366.0 786.9,370.0 C784.7,374.1 782.4,378.2 780.2,382.2 C778.0,386.3 775.7,390.3 773.5,394.4 C771.2,398.4 769.0,402.5 766.8,406.5 C764.5,410.6 762.3,414.6 760.1,418.6 C757.8,422.6 755.6,426.7 753.4,430.7 C751.1,434.7 748.9,438.7 746.6,442.8 C744.4,446.8 742.2,450.8 739.9,454.8 C737.7,458.8 735.5,462.8 733.2,466.8 C731.0,470.8 728.8,474.8 726.5,478.8 C724.3,482.8 722.0,486.8 719.8,490.8 C717.6,494.8 715.3,498.8 713.1,502.9 C710.8,506.9 708.5,510.9 706.3,514.9 C704.0,518.9 701.8,522.9 699.5,526.9 C697.2,530.9 695.0,534.9 692.7,538.9 C690.4,542.9 688.1,546.9 685.8,550.9 C683.5,554.9 681.2,558.9 678.9,562.9 C676.6,566.9 674.3,570.9 672.0,574.9 C669.7,579.0 667.4,583.0 665.0,587.0 C662.7,591.0 660.4,595.0 658.0,599.0 C655.7,603.0 653.4,607.1 651.0,611.1 C648.7,615.1 646.3,619.1 644.0,623.2 C641.7,627.2 639.3,631.2 637.0,635.2 C634.6,639.3 632.3,643.3 630.0,647.3 C627.6,651.4 625.3,655.4 623.0,659.4 C620.7,663.5 618.4,667.5 616.1,671.5 C613.9,675.6 611.6,679.6 609.3,683.7 C607.1,687.7 604.9,691.7 602.7,695.8 C600.5,699.8 598.4,703.8 596.2,707.9 C594.1,711.9 591.0,718.0 590.0,720.0"/>
<path d="M932.5,142.0 C933.0,144.2 934.9,150.8 935.7,155.2 C936.5,159.6 937.1,164.0 937.5,168.3 C937.8,172.6 938.0,176.9 938.0,181.2 C937.9,185.5 937.7,189.8 937.3,194.1 C936.9,198.3 936.4,202.6 935.7,206.8 C935.0,211.0 934.2,215.2 933.2,219.4 C932.3,223.6 931.2,227.8 930.1,232.0 C928.9,236.1 927.6,240.3 926.3,244.4 C924.9,248.6 923.5,252.7 922.0,256.8 C920.5,260.9 918.9,265.0 917.2,269.1 C915.6,273.2 913.9,277.3 912.1,281.4 C910.4,285.4 908.6,289.5 906.8,293.5 C904.9,297.6 903.1,301.6 901.2,305.7 C899.3,309.7 897.3,313.7 895.4,317.7 C893.4,321.7 891.4,325.7 889.4,329.7 C887.5,333.7 885.4,337.7 883.4,341.7 C881.4,345.7 879.4,349.6 877.3,353.6 C875.3,357.5 873.2,361.5 871.2,365.4 C869.1,369.4 867.0,373.3 865.0,377.2 C862.9,381.1 860.8,385.1 858.7,389.0 C856.7,392.9 854.6,396.8 852.5,400.7 C850.4,404.5 848.3,408.4 846.2,412.3 C844.1,416.2 842.0,420.0 839.9,423.9 C837.8,427.7 835.7,431.6 833.6,435.4 C831.5,439.2 829.4,443.1 827.3,446.9 C825.1,450.7 823.0,454.5 820.9,458.3 C818.7,462.1 816.6,465.9 814.4,469.7 C812.3,473.5 810.1,477.3 807.9,481.0 C805.7,484.8 803.5,488.5 801.3,492.3 C799.1,496.0 796.9,499.8 794.6,503.5 C792.4,507.3 790.1,511.0 787.9,514.7 C785.6,518.4 783.3,522.1 781.0,525.8 C778.7,529.5 776.4,533.2 774.0,536.9 C771.7,540.6 769.3,544.3 766.9,548.0 C764.6,551.7 762.2,555.3 759.7,559.0 C757.3,562.7 754.9,566.3 752.4,570.0 C750.0,573.7 747.5,577.3 745.0,581.0 C742.6,584.6 740.1,588.3 737.6,592.0 C735.1,595.6 732.5,599.3 730.0,602.9 C727.5,606.6 725.0,610.2 722.4,613.9 C719.9,617.5 717.3,621.2 714.8,624.9 C712.3,628.5 709.8,632.2 707.2,635.9 C704.7,639.5 702.2,643.2 699.8,646.9 C697.3,650.6 694.8,654.3 692.4,658.0 C690.0,661.7 687.6,665.5 685.2,669.2 C682.9,672.9 680.5,676.7 678.3,680.5 C676.1,684.2 673.9,688.0 671.7,691.8 C669.6,695.7 667.6,699.5 665.6,703.3 C663.7,707.2 661.0,713.1 660.0,715.0"/>
<path d="M1019.5,202.0 C1019.8,204.0 1020.6,210.2 1020.9,214.3 C1021.1,218.4 1021.1,222.4 1020.9,226.3 C1020.7,230.3 1020.4,234.3 1019.8,238.2 C1019.3,242.1 1018.6,245.9 1017.8,249.8 C1017.0,253.6 1016.0,257.5 1014.9,261.2 C1013.9,265.0 1012.7,268.8 1011.4,272.5 C1010.1,276.3 1008.7,280.0 1007.2,283.7 C1005.7,287.4 1004.2,291.1 1002.5,294.8 C1000.9,298.4 999.2,302.1 997.4,305.7 C995.7,309.4 993.9,313.0 992.0,316.6 C990.2,320.2 988.3,323.8 986.4,327.4 C984.4,331.0 982.5,334.6 980.5,338.1 C978.5,341.7 976.5,345.3 974.5,348.8 C972.5,352.4 970.4,355.9 968.4,359.4 C966.3,363.0 964.2,366.5 962.2,370.1 C960.1,373.6 958.0,377.1 956.0,380.6 C953.9,384.2 951.8,387.7 949.7,391.2 C947.7,394.7 945.6,398.2 943.5,401.7 C941.4,405.2 939.4,408.7 937.3,412.2 C935.3,415.7 933.2,419.2 931.2,422.7 C929.1,426.2 927.1,429.7 925.0,433.2 C923.0,436.7 921.0,440.2 918.9,443.7 C916.9,447.2 914.9,450.6 912.9,454.1 C910.8,457.6 908.8,461.1 906.8,464.6 C904.8,468.0 902.8,471.5 900.8,475.0 C898.8,478.5 896.8,481.9 894.8,485.4 C892.7,488.8 890.7,492.3 888.7,495.8 C886.7,499.2 884.7,502.7 882.7,506.1 C880.6,509.6 878.6,513.0 876.6,516.5 C874.5,519.9 872.5,523.3 870.4,526.8 C868.4,530.2 866.3,533.7 864.2,537.1 C862.2,540.5 860.1,543.9 858.0,547.3 C855.9,550.8 853.8,554.2 851.6,557.6 C849.5,561.0 847.4,564.4 845.2,567.8 C843.0,571.2 840.8,574.6 838.7,578.0 C836.5,581.4 834.3,584.8 832.0,588.2 C829.8,591.5 827.6,594.9 825.3,598.3 C823.0,601.7 820.8,605.0 818.5,608.4 C816.2,611.8 813.9,615.1 811.6,618.5 C809.3,621.9 807.0,625.2 804.6,628.6 C802.3,632.0 800.0,635.3 797.7,638.7 C795.3,642.0 793.0,645.4 790.6,648.7 C788.3,652.1 786.0,655.5 783.7,658.8 C781.3,662.2 779.0,665.5 776.7,668.9 C774.4,672.3 772.2,675.7 769.9,679.0 C767.7,682.4 765.5,685.8 763.3,689.2 C761.1,692.6 758.9,696.0 756.9,699.4 C754.8,702.8 752.7,706.2 750.8,709.7 C748.8,713.1 746.0,718.3 745.0,720.0"/>
<path d="M1072.6,264.0 C1072.6,265.8 1072.9,271.2 1072.8,274.8 C1072.8,278.3 1072.5,281.8 1072.2,285.3 C1071.8,288.8 1071.3,292.2 1070.7,295.6 C1070.1,299.1 1069.3,302.5 1068.5,305.8 C1067.6,309.2 1066.7,312.6 1065.6,315.9 C1064.6,319.2 1063.5,322.6 1062.3,325.9 C1061.1,329.2 1059.8,332.4 1058.5,335.7 C1057.2,339.0 1055.8,342.2 1054.4,345.5 C1053.0,348.7 1051.5,352.0 1050.0,355.2 C1048.5,358.4 1047.0,361.6 1045.4,364.9 C1043.8,368.1 1042.2,371.3 1040.6,374.5 C1039.0,377.7 1037.3,380.9 1035.7,384.1 C1034.0,387.2 1032.3,390.4 1030.6,393.6 C1028.9,396.8 1027.2,400.0 1025.5,403.1 C1023.8,406.3 1022.1,409.5 1020.4,412.6 C1018.7,415.8 1017.0,419.0 1015.3,422.1 C1013.6,425.3 1011.9,428.4 1010.2,431.6 C1008.5,434.8 1006.8,437.9 1005.0,441.1 C1003.3,444.2 1001.6,447.4 999.9,450.5 C998.2,453.7 996.5,456.8 994.8,459.9 C993.1,463.1 991.5,466.2 989.8,469.4 C988.1,472.5 986.4,475.6 984.7,478.8 C983.0,481.9 981.3,485.0 979.6,488.1 C977.9,491.3 976.3,494.4 974.6,497.5 C972.9,500.6 971.2,503.7 969.5,506.8 C967.8,509.9 966.1,513.0 964.4,516.1 C962.7,519.2 960.9,522.3 959.2,525.4 C957.5,528.5 955.8,531.6 954.0,534.6 C952.3,537.7 950.5,540.8 948.8,543.8 C947.0,546.9 945.2,550.0 943.4,553.0 C941.6,556.1 939.8,559.1 938.0,562.2 C936.2,565.2 934.4,568.2 932.5,571.2 C930.7,574.3 928.8,577.3 926.9,580.3 C925.0,583.3 923.1,586.3 921.2,589.3 C919.3,592.3 917.4,595.3 915.4,598.3 C913.5,601.3 911.5,604.3 909.5,607.3 C907.6,610.2 905.6,613.2 903.6,616.2 C901.6,619.2 899.5,622.1 897.5,625.1 C895.5,628.1 893.4,631.0 891.4,634.0 C889.3,636.9 887.3,639.9 885.2,642.9 C883.2,645.8 881.1,648.8 879.1,651.8 C877.0,654.7 875.0,657.7 872.9,660.7 C870.9,663.6 868.9,666.6 866.9,669.6 C864.9,672.6 862.9,675.6 860.9,678.6 C859.0,681.6 857.0,684.6 855.1,687.7 C853.2,690.7 851.4,693.7 849.6,696.8 C847.8,699.9 846.0,703.0 844.3,706.1 C842.6,709.2 841.0,712.3 839.4,715.5 C837.9,718.6 835.8,723.4 835.0,725.0"/>
<path d="M1113.0,330.0 C1113.2,331.6 1113.7,336.3 1113.8,339.5 C1113.9,342.6 1113.9,345.7 1113.7,348.8 C1113.6,351.9 1113.3,355.0 1113.0,358.1 C1112.6,361.2 1112.1,364.2 1111.5,367.2 C1111.0,370.3 1110.3,373.3 1109.6,376.3 C1108.9,379.3 1108.0,382.3 1107.2,385.3 C1106.3,388.2 1105.3,391.2 1104.3,394.1 C1103.3,397.1 1102.3,400.0 1101.1,403.0 C1100.0,405.9 1098.9,408.8 1097.7,411.7 C1096.5,414.6 1095.2,417.5 1093.9,420.4 C1092.7,423.3 1091.4,426.2 1090.0,429.0 C1088.7,431.9 1087.3,434.8 1085.9,437.6 C1084.6,440.5 1083.2,443.3 1081.7,446.2 C1080.3,449.0 1078.9,451.8 1077.4,454.7 C1076.0,457.5 1074.5,460.3 1073.0,463.1 C1071.6,465.9 1070.1,468.7 1068.6,471.5 C1067.1,474.3 1065.6,477.1 1064.1,479.9 C1062.6,482.7 1061.1,485.4 1059.5,488.2 C1058.0,491.0 1056.5,493.7 1055.0,496.5 C1053.5,499.3 1051.9,502.0 1050.4,504.8 C1048.9,507.5 1047.3,510.2 1045.8,513.0 C1044.3,515.7 1042.7,518.4 1041.2,521.2 C1039.6,523.9 1038.1,526.6 1036.6,529.3 C1035.0,532.0 1033.5,534.8 1031.9,537.5 C1030.4,540.2 1028.8,542.9 1027.2,545.6 C1025.7,548.2 1024.1,550.9 1022.5,553.6 C1021.0,556.3 1019.4,559.0 1017.8,561.7 C1016.2,564.3 1014.6,567.0 1013.0,569.7 C1011.4,572.3 1009.8,575.0 1008.2,577.6 C1006.6,580.3 1005.0,582.9 1003.3,585.6 C1001.7,588.2 1000.1,590.9 998.4,593.5 C996.7,596.1 995.1,598.8 993.4,601.4 C991.7,604.0 990.0,606.6 988.3,609.3 C986.6,611.9 984.9,614.5 983.2,617.1 C981.5,619.7 979.8,622.3 978.0,624.9 C976.3,627.5 974.5,630.2 972.7,632.8 C971.0,635.4 969.2,638.0 967.4,640.6 C965.6,643.2 963.8,645.7 962.0,648.3 C960.2,650.9 958.4,653.5 956.6,656.1 C954.8,658.7 953.0,661.3 951.2,663.9 C949.3,666.5 947.5,669.1 945.7,671.7 C943.9,674.3 942.0,676.9 940.2,679.5 C938.4,682.1 936.6,684.7 934.8,687.3 C933.0,689.9 931.2,692.5 929.4,695.1 C927.7,697.8 925.9,700.4 924.2,703.0 C922.5,705.6 920.7,708.3 919.1,710.9 C917.4,713.6 915.7,716.2 914.1,718.9 C912.5,721.5 910.9,724.2 909.4,726.9 C907.9,729.6 905.8,733.7 905.0,735.0"/>
<path d="M1136.8,422.0 C1136.8,423.2 1136.9,426.9 1136.7,429.2 C1136.6,431.6 1136.3,434.0 1136.0,436.4 C1135.6,438.7 1135.2,441.0 1134.7,443.4 C1134.2,445.7 1133.6,448.0 1132.9,450.3 C1132.3,452.6 1131.6,454.8 1130.8,457.1 C1130.1,459.4 1129.2,461.6 1128.4,463.9 C1127.5,466.1 1126.6,468.4 1125.7,470.6 C1124.7,472.8 1123.7,475.0 1122.7,477.3 C1121.7,479.5 1120.7,481.7 1119.6,483.9 C1118.6,486.1 1117.5,488.3 1116.4,490.5 C1115.3,492.7 1114.1,494.9 1113.0,497.1 C1111.9,499.2 1110.7,501.4 1109.6,503.6 C1108.4,505.8 1107.3,508.0 1106.1,510.1 C1105.0,512.3 1103.8,514.5 1102.6,516.6 C1101.4,518.8 1100.3,521.0 1099.1,523.1 C1097.9,525.3 1096.7,527.5 1095.5,529.6 C1094.4,531.8 1093.2,533.9 1092.0,536.1 C1090.8,538.2 1089.6,540.4 1088.5,542.5 C1087.3,544.7 1086.1,546.8 1084.9,549.0 C1083.8,551.1 1082.6,553.3 1081.4,555.4 C1080.2,557.5 1079.1,559.7 1077.9,561.8 C1076.7,563.9 1075.6,566.1 1074.4,568.2 C1073.2,570.3 1072.0,572.4 1070.9,574.6 C1069.7,576.7 1068.5,578.8 1067.3,580.9 C1066.1,583.0 1065.0,585.1 1063.8,587.2 C1062.6,589.3 1061.4,591.4 1060.2,593.5 C1059.0,595.6 1057.8,597.7 1056.6,599.8 C1055.4,601.8 1054.2,603.9 1052.9,606.0 C1051.7,608.1 1050.5,610.1 1049.2,612.2 C1048.0,614.3 1046.7,616.3 1045.5,618.4 C1044.2,620.4 1042.9,622.5 1041.6,624.5 C1040.3,626.5 1039.0,628.6 1037.7,630.6 C1036.4,632.6 1035.1,634.7 1033.8,636.7 C1032.4,638.7 1031.1,640.7 1029.7,642.7 C1028.4,644.8 1027.0,646.8 1025.6,648.8 C1024.2,650.8 1022.9,652.8 1021.4,654.8 C1020.0,656.8 1018.6,658.8 1017.2,660.8 C1015.8,662.8 1014.4,664.8 1012.9,666.8 C1011.5,668.7 1010.1,670.7 1008.6,672.7 C1007.2,674.7 1005.7,676.7 1004.3,678.7 C1002.9,680.7 1001.4,682.7 1000.0,684.7 C998.5,686.7 997.1,688.7 995.7,690.8 C994.3,692.8 992.9,694.8 991.5,696.8 C990.1,698.9 988.7,700.9 987.4,702.9 C986.0,705.0 984.7,707.1 983.4,709.1 C982.1,711.2 980.8,713.3 979.6,715.4 C978.4,717.5 977.2,719.7 976.1,721.8 C975.0,724.0 973.9,726.1 972.9,728.3 C971.8,730.5 970.5,733.9 970.0,735.0"/>
<path d="M1142.2,483.3 C1142.2,484.1 1142.3,486.5 1142.3,488.1 C1142.3,489.7 1142.3,491.3 1142.2,492.9 C1142.1,494.5 1141.9,496.1 1141.8,497.7 C1141.6,499.3 1141.4,500.9 1141.1,502.5 C1140.9,504.1 1140.6,505.7 1140.3,507.2 C1140.0,508.8 1139.6,510.4 1139.2,512.0 C1138.8,513.5 1138.4,515.1 1138.0,516.7 C1137.6,518.2 1137.1,519.8 1136.6,521.3 C1136.1,522.9 1135.6,524.4 1135.1,525.9 C1134.6,527.5 1134.0,529.0 1133.5,530.5 C1132.9,532.0 1132.3,533.6 1131.7,535.1 C1131.1,536.6 1130.5,538.1 1129.9,539.6 C1129.3,541.1 1128.6,542.6 1128.0,544.1 C1127.3,545.6 1126.7,547.1 1126.0,548.6 C1125.3,550.0 1124.6,551.5 1123.9,553.0 C1123.2,554.5 1122.6,555.9 1121.9,557.4 C1121.1,558.9 1120.4,560.3 1119.7,561.8 C1119.0,563.3 1118.3,564.7 1117.6,566.2 C1116.9,567.6 1116.1,569.1 1115.4,570.5 C1114.7,572.0 1114.0,573.4 1113.2,574.9 C1112.5,576.3 1111.8,577.8 1111.0,579.2 C1110.3,580.6 1109.6,582.1 1108.8,583.5 C1108.1,585.0 1107.4,586.4 1106.7,587.8 C1105.9,589.3 1105.2,590.7 1104.5,592.1 C1103.8,593.6 1103.0,595.0 1102.3,596.5 C1101.6,597.9 1100.9,599.3 1100.2,600.8 C1099.4,602.2 1098.7,603.6 1098.0,605.1 C1097.3,606.5 1096.6,608.0 1095.9,609.4 C1095.2,610.9 1094.5,612.3 1093.8,613.7 C1093.1,615.2 1092.4,616.6 1091.7,618.1 C1091.0,619.5 1090.3,621.0 1089.6,622.4 C1088.9,623.9 1088.2,625.3 1087.5,626.8 C1086.9,628.2 1086.2,629.7 1085.5,631.1 C1084.8,632.6 1084.1,634.1 1083.4,635.5 C1082.8,637.0 1082.1,638.5 1081.4,639.9 C1080.7,641.4 1080.0,642.8 1079.4,644.3 C1078.7,645.8 1078.0,647.2 1077.3,648.7 C1076.6,650.2 1075.9,651.6 1075.2,653.1 C1074.6,654.6 1073.9,656.0 1073.2,657.5 C1072.5,659.0 1071.8,660.4 1071.1,661.9 C1070.4,663.4 1069.7,664.8 1069.0,666.3 C1068.2,667.7 1067.5,669.2 1066.8,670.7 C1066.1,672.1 1065.3,673.6 1064.6,675.0 C1063.9,676.4 1063.1,677.9 1062.3,679.3 C1061.6,680.7 1060.8,682.2 1060.0,683.6 C1059.2,685.0 1058.5,686.4 1057.7,687.8 C1056.8,689.2 1056.0,690.6 1055.2,691.9 C1054.4,693.3 1053.5,694.7 1052.6,696.0 C1051.8,697.4 1050.4,699.3 1050.0,700.0"/>
</g></g>
<g clip-path="url(#earclip)" fill="none" stroke="#2b2b2b" stroke-width="1.2">
<path d="M421.3,235.3 L279.3,153.3"/>
<path d="M409.0,256.9 L267.0,174.9"/>
<path d="M398.5,275.3 L256.5,193.3"/>
<path d="M386.7,296.1 L244.7,214.1"/>
<path d="M374.5,317.8 L232.5,235.8"/>
<path d="M360.5,342.8 L218.5,260.8"/>
<path d="M347.1,366.9 L205.1,284.9"/>
<path d="M334.0,390.5 L192.0,308.5"/>
<path d="M320.9,414.2 L178.9,332.2"/>
<path d="M310.2,433.6 L168.2,351.6"/>
<path d="M298.9,454.2 L156.9,372.2"/>
<path d="M288.9,472.4 L146.9,390.3"/>
<path d="M278.0,492.4 L136.0,410.3"/>
<path d="M268.0,510.5 L126.0,428.5"/>
<path d="M257.4,529.9 L115.4,447.8"/>
<path d="M246.9,549.1 L104.9,467.1"/>
</g>
<path d="M465.0,215.0 C463.8,214.7 460.1,213.9 457.6,213.4 C455.1,212.9 452.7,212.4 450.2,212.0 C447.7,211.6 445.2,211.2 442.7,211.0 C440.2,210.7 437.7,210.5 435.2,210.4 C432.7,210.3 430.1,210.3 427.6,210.3 C425.1,210.4 422.6,210.5 420.1,210.8 C417.6,211.1 415.2,211.6 412.7,212.1 C410.3,212.7 407.9,213.5 405.5,214.2 C403.0,214.9 400.6,215.6 398.2,216.4 C395.8,217.2 393.4,218.0 391.1,218.9 C388.8,219.9 386.5,221.0 384.3,222.0 C382.0,223.1 379.7,224.3 377.5,225.4 C375.2,226.5 373.0,227.6 370.8,228.9 C368.6,230.1 366.4,231.3 364.3,232.7 C362.1,234.1 360.1,235.5 358.0,237.0 C356.0,238.4 353.9,239.9 351.9,241.4 C349.8,242.8 347.8,244.3 345.7,245.8 C343.7,247.3 341.7,248.8 339.7,250.3 C337.7,251.9 335.7,253.4 333.7,254.9 C331.7,256.5 329.7,258.0 327.8,259.7 C325.9,261.3 324.0,262.9 322.1,264.7 C320.3,266.4 318.5,268.2 316.8,270.0 C315.0,271.8 313.2,273.5 311.5,275.4 C309.8,277.3 308.2,279.2 306.6,281.2 C305.0,283.1 303.5,285.1 302.0,287.1 C300.4,289.1 298.9,291.1 297.3,293.1 C295.8,295.1 294.2,297.1 292.7,299.0 C291.1,301.0 289.5,303.0 288.0,305.0 C286.4,306.9 284.8,308.9 283.2,310.9 C281.7,312.8 280.1,314.8 278.5,316.8 C276.9,318.7 275.4,320.7 273.8,322.7 C272.2,324.6 270.6,326.6 269.0,328.5 C267.4,330.5 265.8,332.4 264.2,334.4 C262.6,336.4 261.0,338.3 259.5,340.3 C257.9,342.3 256.4,344.3 254.9,346.3 C253.5,348.4 252.0,350.4 250.5,352.5 C249.1,354.6 247.6,356.6 246.2,358.7 C244.8,360.8 243.3,362.8 242.0,364.9 C240.6,367.1 239.2,369.2 237.9,371.3 C236.5,373.4 235.1,375.6 233.8,377.7 C232.5,379.9 231.3,382.0 230.0,384.2 C228.8,386.4 227.6,388.6 226.4,390.9 C225.2,393.1 224.0,395.3 222.7,397.5 C221.5,399.7 220.3,401.9 219.1,404.1 C217.9,406.3 216.7,408.6 215.5,410.8 C214.3,413.0 213.0,415.2 211.8,417.4 C210.6,419.6 209.4,421.8 208.2,424.0 C206.9,426.2 205.7,428.4 204.5,430.6 C203.3,432.8 202.0,435.0 200.8,437.2 C199.6,439.4 198.4,441.7 197.3,443.9 C196.2,446.2 195.0,448.4 193.9,450.7 C192.8,452.9 191.7,455.2 190.6,457.5 C189.5,459.7 188.3,462.0 187.2,464.3 C186.1,466.5 185.0,468.8 183.9,471.0 C182.8,473.3 181.6,475.6 180.5,477.8 C179.4,480.1 178.3,482.3 177.2,484.6 C176.1,486.9 174.9,489.1 173.8,491.4 C172.7,493.6 171.6,495.9 170.5,498.2 C169.4,500.4 168.3,502.7 167.1,504.9 C166.0,507.2 164.6,510.2 163.8,511.7 C163.1,513.2 162.9,513.6 162.7,514.0" fill="none" stroke="#2b2b2b" stroke-width="1.5"/>
<path d="M433.3,210.0 C432.4,211.5 429.7,216.1 428.0,219.1 C426.2,222.2 424.5,225.3 422.7,228.3 C420.9,231.4 419.2,234.4 417.4,237.5 C415.7,240.5 413.9,243.6 412.2,246.7 C410.4,249.7 408.7,252.8 406.9,255.9 C405.2,258.9 403.5,262.0 401.7,265.1 C400.0,268.1 398.2,271.2 396.5,274.3 C394.7,277.3 393.0,280.4 391.3,283.5 C389.5,286.5 387.8,289.6 386.1,292.7 C384.3,295.7 382.6,298.8 380.9,301.9 C379.1,305.0 377.4,308.0 375.7,311.1 C373.9,314.2 372.2,317.3 370.5,320.3 C368.8,323.4 367.0,326.5 365.3,329.6 C363.6,332.6 361.9,335.7 360.2,338.8 C358.4,341.9 356.7,345.0 355.0,348.0 C353.3,351.1 351.6,354.2 349.8,357.3 C348.1,360.4 346.4,363.5 344.7,366.5 C343.0,369.6 341.3,372.7 339.6,375.8 C337.9,378.9 336.1,382.0 334.4,385.1 C332.7,388.1 331.0,391.2 329.3,394.3 C327.6,397.4 325.9,400.5 324.2,403.6 C322.5,406.7 320.8,409.8 319.1,412.9 C317.4,415.9 315.6,419.0 313.9,422.1 C312.2,425.2 310.5,428.3 308.8,431.4 C307.1,434.5 305.4,437.6 303.7,440.7 C302.0,443.8 300.3,446.9 298.6,450.0 C296.9,453.0 295.2,456.1 293.5,459.2 C291.8,462.3 290.1,465.4 288.4,468.5 C286.7,471.6 285.0,474.7 283.3,477.8 C281.6,480.9 279.9,484.0 278.2,487.1 C276.6,490.2 274.9,493.3 273.2,496.4 C271.5,499.5 269.8,502.6 268.1,505.7 C266.4,508.8 264.7,511.8 263.0,514.9 C261.3,518.0 259.6,521.1 257.9,524.2 C256.2,527.3 254.5,530.4 252.8,533.5 C251.1,536.6 249.4,539.7 247.7,542.8 C246.0,545.9 244.3,549.0 242.6,552.1 C240.9,555.2 239.2,558.3 237.6,561.4 C235.9,564.5 233.3,569.1 232.5,570.7" fill="none" stroke="#2b2b2b" stroke-width="1.5"/>
<g clip-path="url(#capclip)">
<path d="M516.6,62.0 C516.7,63.3 516.8,67.0 516.9,69.5 C517.1,72.1 517.4,74.6 517.5,77.1 C517.7,79.6 517.9,82.1 517.9,84.6 C518.0,87.1 517.8,89.6 517.6,92.1 C517.5,94.6 517.2,97.1 516.9,99.6 C516.5,102.1 516.0,104.6 515.5,107.0 C514.9,109.4 514.1,111.9 513.4,114.3 C512.6,116.7 511.9,119.0 511.0,121.4 C510.2,123.8 509.2,126.1 508.3,128.5 C507.4,130.8 506.4,133.1 505.4,135.5 C504.4,137.8 503.4,140.1 502.4,142.4 C501.4,144.7 500.3,147.0 499.3,149.3 C498.3,151.6 497.2,153.9 496.2,156.1 C495.1,158.4 494.1,160.7 493.0,163.0 C492.0,165.3 490.9,167.6 489.8,169.9 C488.8,172.2 487.7,174.4 486.6,176.7 C485.5,178.9 484.3,181.2 483.2,183.5 C482.1,185.7 481.0,188.0 479.8,190.2 C478.7,192.4 477.5,194.7 476.4,196.9 C475.2,199.1 474.0,201.4 472.8,203.6 C471.6,205.8 470.4,208.0 469.2,210.2 C468.1,212.5 466.9,214.7 465.7,216.9 C464.5,219.1 463.3,221.3 462.1,223.6 C460.9,225.8 459.7,228.0 458.5,230.2 C457.3,232.4 456.1,234.6 454.9,236.8 C453.6,239.0 452.3,241.2 451.1,243.4 C449.8,245.6 448.5,247.7 447.3,249.9 C446.0,252.1 444.8,254.3 443.5,256.5 C442.3,258.7 441.1,260.9 439.9,263.1 C438.7,265.3 437.6,267.6 436.4,269.8 C435.2,272.0 434.0,274.2 432.9,276.5 C431.7,278.7 430.5,280.9 429.3,283.1 C428.2,285.4 427.0,287.6 425.8,289.8 C424.6,292.1 423.5,294.3 422.3,296.5 C421.1,298.7 419.9,301.0 418.8,303.2 C417.6,305.4 416.4,307.6 415.2,309.9 C414.0,312.1 412.9,314.3 411.7,316.6 C410.5,318.8 409.3,321.0 408.2,323.2 C407.0,325.5 405.8,327.7 404.6,329.9 C403.5,332.1 402.3,334.4 401.1,336.6 C399.9,338.8 398.8,341.1 397.6,343.3 C396.4,345.5 395.2,347.7 394.1,350.0 C392.9,352.2 391.7,354.4 390.5,356.6 C389.3,358.9 388.2,361.1 387.0,363.3 C385.8,365.6 384.6,367.8 383.5,370.0 C382.3,372.2 381.1,374.5 379.9,376.7 C378.8,378.9 377.6,381.1 376.4,383.4 C375.2,385.6 374.1,387.8 372.9,390.1 C371.7,392.3 370.5,394.5 369.4,396.7 C368.2,399.0 367.0,401.2 365.8,403.4 C364.7,405.6 363.5,407.9 362.3,410.1 C361.1,412.3 359.9,414.6 358.8,416.8 C357.6,419.0 356.4,421.2 355.2,423.5 C354.1,425.7 352.9,427.9 351.7,430.1 C350.5,432.4 349.4,434.6 348.2,436.8 C347.0,439.1 345.8,441.3 344.7,443.5 C343.5,445.7 342.3,448.0 341.1,450.2 C339.9,452.4 338.8,454.6 337.6,456.9 C336.4,459.1 335.2,461.3 334.1,463.6 C332.9,465.8 331.7,468.0 330.5,470.2 C329.4,472.5 328.2,474.7 327.0,476.9 C325.8,479.1 324.6,481.4 323.5,483.6 C322.3,485.8 321.1,488.0 319.9,490.3 C318.8,492.5 317.6,494.7 316.4,497.0 C315.2,499.2 314.1,501.4 312.9,503.6 C311.7,505.9 310.5,508.1 309.3,510.3 C308.2,512.5 307.0,514.8 305.8,517.0 C304.6,519.2 303.5,521.4 302.3,523.7 C301.1,525.9 300.0,528.1 298.8,530.4 C297.6,532.6 296.5,534.9 295.4,537.1 C294.2,539.4 293.1,541.6 291.9,543.8 C290.8,546.1 289.6,548.3 288.5,550.6 C287.4,552.8 286.2,555.1 285.1,557.3 C283.9,559.6 282.8,561.8 281.6,564.0 C280.5,566.3 279.4,568.5 278.2,570.8 C277.1,573.0 275.7,575.6 274.8,577.5 C273.8,579.4 272.9,581.3 272.5,582.0" fill="none" stroke="#2b2b2b" stroke-width="1.9"/>
<path d="M526.2,64.0 C526.3,65.3 526.6,69.0 526.9,71.5 C527.2,74.0 527.7,76.5 528.0,79.0 C528.3,81.4 528.6,83.9 528.6,86.4 C528.6,88.9 528.3,91.4 528.1,93.9 C527.8,96.4 527.5,98.9 527.0,101.3 C526.6,103.8 526.1,106.3 525.5,108.7 C524.9,111.1 524.1,113.5 523.4,116.0 C522.7,118.4 521.9,120.8 521.1,123.1 C520.3,125.5 519.4,127.9 518.6,130.2 C517.7,132.6 516.8,135.0 515.9,137.3 C515.0,139.7 514.1,142.0 513.2,144.3 C512.2,146.7 511.3,149.0 510.3,151.3 C509.3,153.6 508.4,156.0 507.3,158.3 C506.3,160.6 505.2,162.8 504.1,165.1 C503.0,167.4 501.9,169.6 500.8,171.9 C499.6,174.1 498.5,176.4 497.4,178.6 C496.3,180.9 495.1,183.1 494.0,185.4 C492.9,187.6 491.8,189.9 490.6,192.1 C489.5,194.4 488.4,196.6 487.2,198.8 C486.0,201.0 484.8,203.2 483.5,205.4 C482.3,207.6 481.0,209.8 479.7,211.9 C478.4,214.1 477.2,216.3 475.9,218.5 C474.6,220.6 473.4,222.8 472.1,225.0 C470.8,227.1 469.5,229.3 468.3,231.5 C467.0,233.7 465.7,235.8 464.5,238.0 C463.2,240.2 462.0,242.4 460.8,244.6 C459.6,246.8 458.4,249.0 457.2,251.2 C456.0,253.4 454.8,255.6 453.6,257.9 C452.4,260.1 451.3,262.3 450.1,264.6 C449.0,266.8 447.8,269.0 446.7,271.3 C445.5,273.5 444.4,275.8 443.3,278.0 C442.1,280.3 441.0,282.5 439.8,284.7 C438.7,287.0 437.6,289.2 436.4,291.5 C435.3,293.7 434.1,296.0 433.0,298.2 C431.8,300.4 430.7,302.7 429.6,304.9 C428.4,307.2 427.3,309.4 426.1,311.7 C425.0,313.9 423.9,316.1 422.7,318.4 C421.6,320.6 420.4,322.9 419.3,325.1 C418.1,327.4 417.0,329.6 415.9,331.8 C414.7,334.1 413.6,336.3 412.4,338.6 C411.3,340.8 410.2,343.1 409.0,345.3 C407.9,347.5 406.7,349.8 405.6,352.0 C404.4,354.3 403.3,356.5 402.2,358.7 C401.0,361.0 399.9,363.2 398.7,365.5 C397.6,367.7 396.4,370.0 395.3,372.2 C394.2,374.4 393.0,376.7 391.9,378.9 C390.7,381.2 389.6,383.4 388.4,385.6 C387.3,387.9 386.2,390.1 385.0,392.4 C383.9,394.6 382.7,396.9 381.6,399.1 C380.4,401.3 379.3,403.6 378.2,405.8 C377.0,408.1 375.9,410.3 374.7,412.5 C373.6,414.8 372.4,417.0 371.3,419.3 C370.1,421.5 369.0,423.8 367.9,426.0 C366.7,428.2 365.6,430.5 364.4,432.7 C363.3,435.0 362.1,437.2 361.0,439.4 C359.9,441.7 358.7,443.9 357.6,446.2 C356.4,448.4 355.3,450.7 354.1,452.9 C353.0,455.1 351.8,457.4 350.7,459.6 C349.6,461.9 348.4,464.1 347.3,466.3 C346.1,468.6 345.0,470.8 343.9,473.1 C342.7,475.3 341.6,477.6 340.5,479.8 C339.3,482.1 338.2,484.3 337.0,486.5 C335.9,488.8 334.8,491.0 333.6,493.3 C332.5,495.5 331.3,497.8 330.2,500.0 C329.1,502.3 327.9,504.5 326.8,506.7 C325.6,509.0 324.5,511.2 323.4,513.5 C322.2,515.7 321.1,518.0 319.9,520.2 C318.8,522.4 317.7,524.7 316.5,526.9 C315.4,529.2 314.3,531.4 313.1,533.7 C312.0,535.9 310.8,538.2 309.7,540.4 C308.6,542.6 307.4,544.9 306.3,547.1 C305.1,549.4 304.0,551.6 302.9,553.9 C301.7,556.1 300.6,558.3 299.4,560.6 C298.3,562.8 297.2,565.1 296.0,567.3 C294.9,569.6 293.7,571.8 292.6,574.0 C291.4,576.3 289.9,579.3 289.1,580.8 C288.4,582.3 288.2,582.6 288.0,583.0" fill="none" stroke="#2b2b2b" stroke-width="2" stroke-dasharray="5.5,4.5"/>
<path d="M543.5,60.0 C543.8,61.2 544.7,64.9 545.4,67.3 C546.1,69.7 547.0,72.0 547.6,74.5 C548.1,76.9 548.6,79.3 548.7,81.7 C548.8,84.2 548.7,86.7 548.4,89.2 C548.1,91.7 547.7,94.2 547.1,96.6 C546.6,99.0 545.8,101.4 545.1,103.8 C544.4,106.2 543.6,108.6 542.8,111.0 C541.9,113.4 541.0,115.7 540.1,118.0 C539.2,120.4 538.3,122.7 537.3,125.0 C536.3,127.3 535.3,129.6 534.3,131.9 C533.3,134.2 532.2,136.5 531.1,138.8 C530.1,141.1 529.0,143.3 527.9,145.6 C526.7,147.8 525.5,150.0 524.3,152.2 C523.2,154.4 521.9,156.6 520.7,158.9 C519.5,161.1 518.3,163.3 517.1,165.5 C515.9,167.7 514.7,169.9 513.5,172.1 C512.3,174.3 511.1,176.5 509.9,178.7 C508.8,180.9 507.6,183.2 506.5,185.4 C505.3,187.7 504.2,189.9 503.1,192.1 C501.9,194.4 500.8,196.6 499.7,198.9 C498.6,201.1 497.4,203.4 496.3,205.6 C495.1,207.8 493.9,210.0 492.8,212.3 C491.6,214.5 490.4,216.7 489.3,219.0 C488.1,221.2 487.0,223.4 485.9,225.7 C484.8,228.0 483.7,230.2 482.7,232.5 C481.6,234.8 480.5,237.1 479.5,239.3 C478.4,241.6 477.3,243.9 476.2,246.1 C475.1,248.4 474.0,250.6 472.8,252.9 C471.7,255.1 470.5,257.3 469.4,259.6 C468.3,261.8 467.1,264.0 466.0,266.3 C464.8,268.5 463.7,270.8 462.5,273.0 C461.4,275.2 460.2,277.5 459.1,279.7 C457.9,281.9 456.8,284.2 455.6,286.4 C454.5,288.6 453.3,290.9 452.2,293.1 C451.0,295.4 449.9,297.6 448.8,299.8 C447.6,302.1 446.5,304.3 445.3,306.5 C444.2,308.8 443.0,311.0 441.9,313.3 C440.8,315.5 439.7,317.7 438.5,320.0 C437.4,322.2 436.3,324.5 435.2,326.7 C434.1,329.0 432.9,331.2 431.8,333.5 C430.7,335.8 429.6,338.0 428.5,340.3 C427.4,342.5 426.2,344.8 425.1,347.0 C424.0,349.3 422.9,351.5 421.8,353.8 C420.7,356.0 419.5,358.3 418.4,360.5 C417.3,362.8 416.2,365.0 415.1,367.3 C414.0,369.5 412.8,371.8 411.7,374.0 C410.6,376.3 409.5,378.5 408.3,380.7 C407.2,383.0 406.0,385.2 404.9,387.4 C403.7,389.7 402.5,391.9 401.4,394.1 C400.2,396.4 399.1,398.6 397.9,400.8 C396.7,403.0 395.6,405.3 394.4,407.5 C393.2,409.7 392.1,411.9 390.9,414.2 C389.8,416.4 388.6,418.6 387.4,420.9 C386.3,423.1 385.1,425.3 383.9,427.5 C382.8,429.8 381.6,432.0 380.5,434.2 C379.3,436.5 378.1,438.7 377.0,440.9 C375.8,443.1 374.6,445.4 373.5,447.6 C372.3,449.8 371.2,452.0 370.0,454.3 C368.8,456.5 367.7,458.7 366.5,461.0 C365.3,463.2 364.2,465.4 363.0,467.6 C361.8,469.9 360.7,472.1 359.5,474.3 C358.3,476.5 357.2,478.8 356.0,481.0 C354.8,483.2 353.6,485.4 352.5,487.7 C351.3,489.9 350.1,492.1 349.0,494.3 C347.8,496.6 346.6,498.8 345.5,501.0 C344.3,503.2 343.1,505.5 342.0,507.7 C340.8,509.9 339.6,512.1 338.5,514.4 C337.3,516.6 336.1,518.8 335.0,521.0 C333.8,523.3 332.6,525.5 331.5,527.7 C330.3,529.9 329.1,532.2 328.0,534.4 C326.8,536.6 325.6,538.8 324.4,541.1 C323.3,543.3 322.1,545.5 320.9,547.7 C319.8,550.0 318.6,552.2 317.4,554.4 C316.3,556.6 315.1,558.9 313.9,561.1 C312.8,563.3 311.6,565.5 310.4,567.8 C309.3,570.0 308.1,572.2 306.9,574.4 C305.8,576.7 304.6,578.9 303.4,581.1 C302.3,583.3 300.7,586.3 299.9,587.8 C299.1,589.3 298.9,589.6 298.8,590.0" fill="none" stroke="#2b2b2b" stroke-width="1.9"/>
</g>
<path d="M89.0,472.0 C91.2,467.9 96.1,458.7 102.5,447.5 C108.9,436.3 117.1,421.2 127.5,405.0 C137.9,388.8 150.4,369.6 165.0,350.0 C179.6,330.4 198.3,307.5 215.0,287.5 C231.7,267.5 248.3,247.9 265.0,230.0 C281.7,212.1 298.3,195.0 315.0,180.0 C331.7,165.0 347.5,152.5 365.0,140.0 C382.5,127.5 405.3,113.7 420.0,105.0 C434.7,96.3 441.8,93.0 453.0,88.0 C464.2,83.0 475.8,78.5 487.0,75.0 C498.2,71.5 509.0,69.0 520.0,67.0 C531.0,65.0 541.8,63.8 553.0,63.0 C564.2,62.2 575.8,62.3 587.0,62.5 C598.2,62.7 606.7,63.2 620.0,64.0 C633.3,64.8 648.2,64.8 667.0,67.0 C685.8,69.2 714.2,73.5 733.0,77.0 C751.8,80.5 757.2,81.3 780.0,88.0 C802.8,94.7 844.5,107.0 870.0,117.0 C895.5,127.0 913.7,137.5 933.0,148.0 C952.3,158.5 972.2,170.9 986.0,180.0 C999.8,189.1 1007.0,195.0 1016.0,202.5 C1025.0,210.0 1033.0,218.2 1040.0,225.0 C1047.0,231.8 1052.2,236.5 1058.0,243.0 C1063.8,249.5 1069.2,257.0 1074.5,264.0 C1079.8,271.0 1084.8,277.8 1089.5,285.0 C1094.2,292.2 1098.6,299.2 1103.0,307.5 C1107.4,315.8 1111.8,325.1 1116.0,335.0 C1120.2,344.9 1124.5,356.1 1128.0,366.7 C1131.5,377.3 1134.8,386.3 1137.3,398.7 C1139.8,411.1 1141.4,426.6 1142.7,441.3 C1144.0,456.0 1144.9,472.5 1145.3,486.7 C1145.7,500.9 1145.5,511.2 1145.3,526.7 C1145.1,542.2 1144.4,564.5 1144.0,580.0 C1143.6,595.5 1143.4,609.8 1142.7,620.0 C1142.0,630.2 1140.5,637.8 1140.0,641.3" fill="none" stroke="#2b2b2b" stroke-width="1.3"/>
<path d="M88.8,475.0 C91.7,475.6 101.5,476.9 106.7,478.3 C111.9,479.7 115.0,480.9 120.0,483.3 C125.0,485.7 131.1,488.5 136.7,492.5 C142.2,496.5 149.1,503.9 153.3,507.5 C157.5,511.1 157.5,510.2 161.7,514.2 C165.9,518.2 172.8,526.2 178.3,531.7 C183.9,537.2 188.6,542.6 195.0,547.5 C201.4,552.4 210.3,556.9 216.7,560.8 C223.1,564.7 227.8,568.0 233.3,570.8 C238.9,573.6 244.4,575.8 250.0,577.5 C255.6,579.2 261.1,579.8 266.7,580.8 C272.2,581.8 278.2,582.3 283.3,583.3 C288.4,584.3 295.1,586.1 297.5,586.7 L272.5,641.2 C270.8,640.4 266.2,637.7 262.5,636.2 C258.8,634.8 260.4,634.1 250.0,632.5 C239.6,630.9 215.6,629.1 200.0,626.7 C184.4,624.3 169.5,620.8 156.7,618.3 C143.9,615.8 134.4,614.2 123.3,611.7 C112.2,609.2 99.7,606.4 90.0,603.3 C80.3,600.2 71.0,596.6 65.0,593.3 C59.0,590.0 56.0,585.0 54.2,583.3 L54.2,583.3 C54.9,580.5 56.5,573.6 58.3,566.7 C60.1,559.8 62.5,550.6 65.0,541.7 C67.5,532.8 70.5,521.9 73.3,513.3 C76.1,504.7 79.1,496.4 81.7,490.0 C84.3,483.6 87.6,477.5 88.8,475.0Z" fill="#cfa272" stroke="#2b2b2b" stroke-width="1.3"/>
<path d="M90.0,483.0 C95.0,485.3 112.2,492.8 120.0,496.7 C127.8,500.6 131.1,502.9 136.7,506.7 C142.2,510.4 148.2,514.8 153.3,519.2 C158.4,523.6 162.6,528.4 167.5,533.3 C172.4,538.1 177.1,543.4 182.5,548.3 C187.9,553.2 194.6,558.6 200.0,562.5 C205.4,566.4 209.4,568.8 215.0,571.7 C220.6,574.6 227.1,577.5 233.3,580.0 C239.6,582.5 246.0,584.7 252.5,586.7 C259.0,588.7 265.2,590.6 272.5,592.0 C279.8,593.4 292.1,594.7 296.0,595.2" fill="none" stroke="#2b2b2b" stroke-width="1.8" stroke-dasharray="3.2,5.3"/>
<path d="M298.3,590.0 L440.0,640.8 L580.0,686.3 L571.0,717.3 L440.0,670.0 L289.2,611.7Z" fill="#a87c4e" stroke="#2b2b2b" stroke-width="1.3"/>
<path d="M585.0,686.8 L602.5,687.5 L640.0,689.2 L700.0,693.8 L760.0,698.8 L832.5,705.0 L900.0,709.0 L955.0,711.0 L962.0,740.0 L966.0,765.0 L900.0,761.5 L830.0,755.0 L640.0,740.0 L592.5,734.2 L580.0,733.0Z" fill="#a87c4e" stroke="#2b2b2b" stroke-width="1.3"/>
<path d="M281.7,623.3 L272.5,641.7 C283.8,648.9 318.5,671.0 340.0,685.0 C361.5,699.0 383.4,714.1 401.7,725.8 C420.0,737.5 436.9,747.6 450.0,755.0 C463.1,762.4 470.6,765.2 480.0,770.0 C489.4,774.8 497.5,779.3 506.7,783.5 C515.9,787.7 526.7,791.8 535.0,795.0 C543.3,798.2 553.1,801.2 556.7,802.5 C561,803 565,800 568,795 C572,788 575,781 578.3,773.3 L590,736.7 L602.5,687.5 L570,683.3 L545,769.2 L463.3,725.8 L420,701.7 Z" fill="#f2e6d6" stroke="#2b2b2b" stroke-width="1.3" stroke-linejoin="round"/>
<path d="M474.2,685.0 L508.3,697.5 L548.3,746.7 L545.0,769.0 L528.3,760.0Z" fill="#f2e6d6" stroke="#2b2b2b" stroke-width="1.3"/>
<path d="M595.8,720 L640,725 L830,744" fill="none" stroke="#2b2b2b" stroke-width="1.3"/>
<path d="M857,745 L900,749" fill="none" stroke="#2b2b2b" stroke-width="1.3"/>
<path d="M831,705 L829,755 M857,707 L855,756" fill="none" stroke="#2b2b2b" stroke-width="1.3"/>
<path d="M1139.0,641.2 C1138.8,646.0 1138.2,661.1 1138.0,670.0 C1137.8,678.9 1137.9,687.0 1137.5,694.5 C1137.1,702.0 1136.0,709.1 1135.5,715.0 C1135.0,720.9 1134.7,721.7 1134.5,730.0 C1134.3,738.3 1135.2,756.7 1134.5,765.0 C1133.8,773.3 1132.2,775.5 1130.0,780.0 C1127.8,784.5 1124.8,788.5 1121.0,792.0 C1117.2,795.5 1113.5,798.8 1107.5,801.0 C1101.5,803.2 1093.8,804.7 1085.0,805.5 C1076.2,806.3 1063.3,806.2 1055.0,806.0 C1046.7,805.8 1041.2,805.3 1035.0,804.0 C1028.8,802.7 1023.8,801.0 1018.0,798.0 C1012.2,795.0 1005.5,789.5 1000.0,786.0 C994.5,782.5 990.3,780.2 985.0,777.0 C979.7,773.8 972.7,771.0 968.0,767.0 C963.3,763.0 958.8,755.3 957.0,753.0 L950.0,711.5 C950.8,711.5 950.0,712.2 955.0,711.7 C960.0,711.2 970.8,709.9 980.0,708.3 C989.2,706.7 1000.0,704.8 1010.0,702.0 C1020.0,699.2 1032.5,694.2 1040.0,691.5 C1047.5,688.8 1047.5,689.2 1055.0,685.5 C1062.5,681.8 1075.0,674.5 1085.0,669.0 C1095.0,663.5 1106.0,657.1 1115.0,652.5 C1124.0,647.9 1135.0,643.1 1139.0,641.2Z" fill="#cfa272" stroke="#2b2b2b" stroke-width="1.3"/>
<path d="M961.0,755.0 C962.5,756.0 966.0,758.2 970.0,761.0 C974.0,763.8 979.7,768.4 985.0,772.0 C990.3,775.6 995.9,779.2 1001.7,782.5 C1007.5,785.8 1013.6,789.1 1020.0,792.0 C1026.4,794.9 1031.7,798.5 1040.0,800.0 C1048.3,801.5 1061.2,801.3 1070.0,801.0 C1078.8,800.7 1085.5,799.8 1092.5,798.0 C1099.5,796.2 1106.8,793.8 1112.0,790.5 C1117.2,787.2 1121.0,782.8 1124.0,778.5 C1127.0,774.2 1128.8,770.2 1130.0,765.0 C1131.2,759.8 1131.1,752.0 1131.5,747.0 C1131.9,742.0 1132.3,737.0 1132.5,735.0" fill="none" stroke="#2b2b2b" stroke-width="1.7" stroke-dasharray="3.5,3.5"/>
<path d="M1135.5,646.0 C1132.1,647.9 1123.4,652.8 1115.0,657.5 C1106.6,662.2 1095.0,668.5 1085.0,674.0 C1075.0,679.5 1062.5,686.7 1055.0,690.5 C1047.5,694.3 1047.5,694.0 1040.0,697.0 C1032.5,700.0 1020.0,705.8 1010.0,708.5 C1000.0,711.2 987.5,712.6 980.0,713.5 C972.5,714.4 967.5,713.9 965.0,714.0" fill="none" stroke="#2b2b2b" stroke-width="1.7" stroke-dasharray="3.5,3.5"/>
<path d="M938.0,714.0 L1070.8,720.0 L1066.2,760.5 L940.0,752.0Z" fill="#a87c4e" stroke="#2b2b2b" stroke-width="1.3"/>
<circle cx="699.8" cy="350.0" r="28.2" fill="#fff" stroke="#2b2b2b" stroke-width="2"/><g transform="translate(699.8,350.0)" fill="none" stroke="#383838" stroke-width="2.5" stroke-linecap="butt" stroke-linejoin="miter"><path d="M-6.5,-14.2 L-0.5,-15.2" stroke-width="2.6"/><path d="M0.8,-15.5 L0.8,18.5" stroke-width="3.4"/></g>
<circle cx="241.2" cy="442.8" r="28.2" fill="#fff" stroke="#2b2b2b" stroke-width="2"/><g transform="translate(241.2,442.8)" fill="none" stroke="#383838" stroke-width="2.5" stroke-linecap="butt" stroke-linejoin="miter"><path d="M-6.5,-14.2 L-0.5,-15.2" stroke-width="2.6"/><path d="M0.8,-15.5 L0.8,18.5" stroke-width="3.4"/></g>
<circle cx="112.3" cy="573.9" r="28.2" fill="#fff" stroke="#2b2b2b" stroke-width="2"/><g transform="translate(112.3,573.9)" fill="none" stroke="#383838" stroke-width="2.5" stroke-linecap="butt" stroke-linejoin="miter"><path d="M6,16.7 L6,-13.8 L-9.5,7.8 L11,7.8"/></g>
<circle cx="431.5" cy="729.8" r="28.2" fill="#fff" stroke="#2b2b2b" stroke-width="2"/><g transform="translate(431.5,729.8)" fill="none" stroke="#383838" stroke-width="2.5" stroke-linecap="butt" stroke-linejoin="miter"><path d="M-7.5,-7.5 C-6,-13 -2.5,-16 1.5,-16 C7,-16 11.2,-12.5 11.2,-7.5 C11.2,-3 8,0 4,4 L-8,16.2 L12.5,16.2"/></g>
<circle cx="925.8" cy="738.5" r="28.2" fill="#fff" stroke="#2b2b2b" stroke-width="2"/><g transform="translate(925.8,738.5)" fill="none" stroke="#383838" stroke-width="2.5" stroke-linecap="butt" stroke-linejoin="miter"><path d="M-8.3,-8 C-6.5,-12 -3,-14.25 1.2,-14.25 C6.5,-14.25 10.5,-11.5 10.5,-7.5 C10.5,-3 6.5,-0.25 0.5,-0.25 L-1.5,-0.25 M0.5,-0.25 C7.5,-0.25 12.2,3.5 12.2,8.5 C12.2,14 7.5,17.5 0.7,17.5 C-4.5,17.5 -8,15 -9.5,11"/></g>
<circle cx="1110.1" cy="708.4" r="28.2" fill="#fff" stroke="#2b2b2b" stroke-width="2"/><g transform="translate(1108.1,708.4)" fill="none" stroke="#383838" stroke-width="2.5" stroke-linecap="butt" stroke-linejoin="miter"><path d="M6,16.7 L6,-13.8 L-9.5,7.8 L11,7.8"/></g>
</svg>
<div class="t" style="left:352px;top:892px">1.</div><div class="t" style="left:385px;top:892px;letter-spacing:0.46px">Open Wefted Top &amp; Back</div>
<div class="t" style="left:352px;top:944px">2.</div><div class="t" style="left:385px;top:944px;letter-spacing:0.24px">Open Wefted Ear Tabs</div>
<div class="t" style="left:352px;top:995px">3.</div><div class="t" style="left:386.5px;top:995px;letter-spacing:0.1px">Velcro Tabs</div>
<div class="t" style="left:352px;top:1047px">4.</div><div class="t" style="left:386.5px;top:1047px;letter-spacing:0.12px">Velvet Front Hairline &amp; Nape</div>
</div></body></html>
